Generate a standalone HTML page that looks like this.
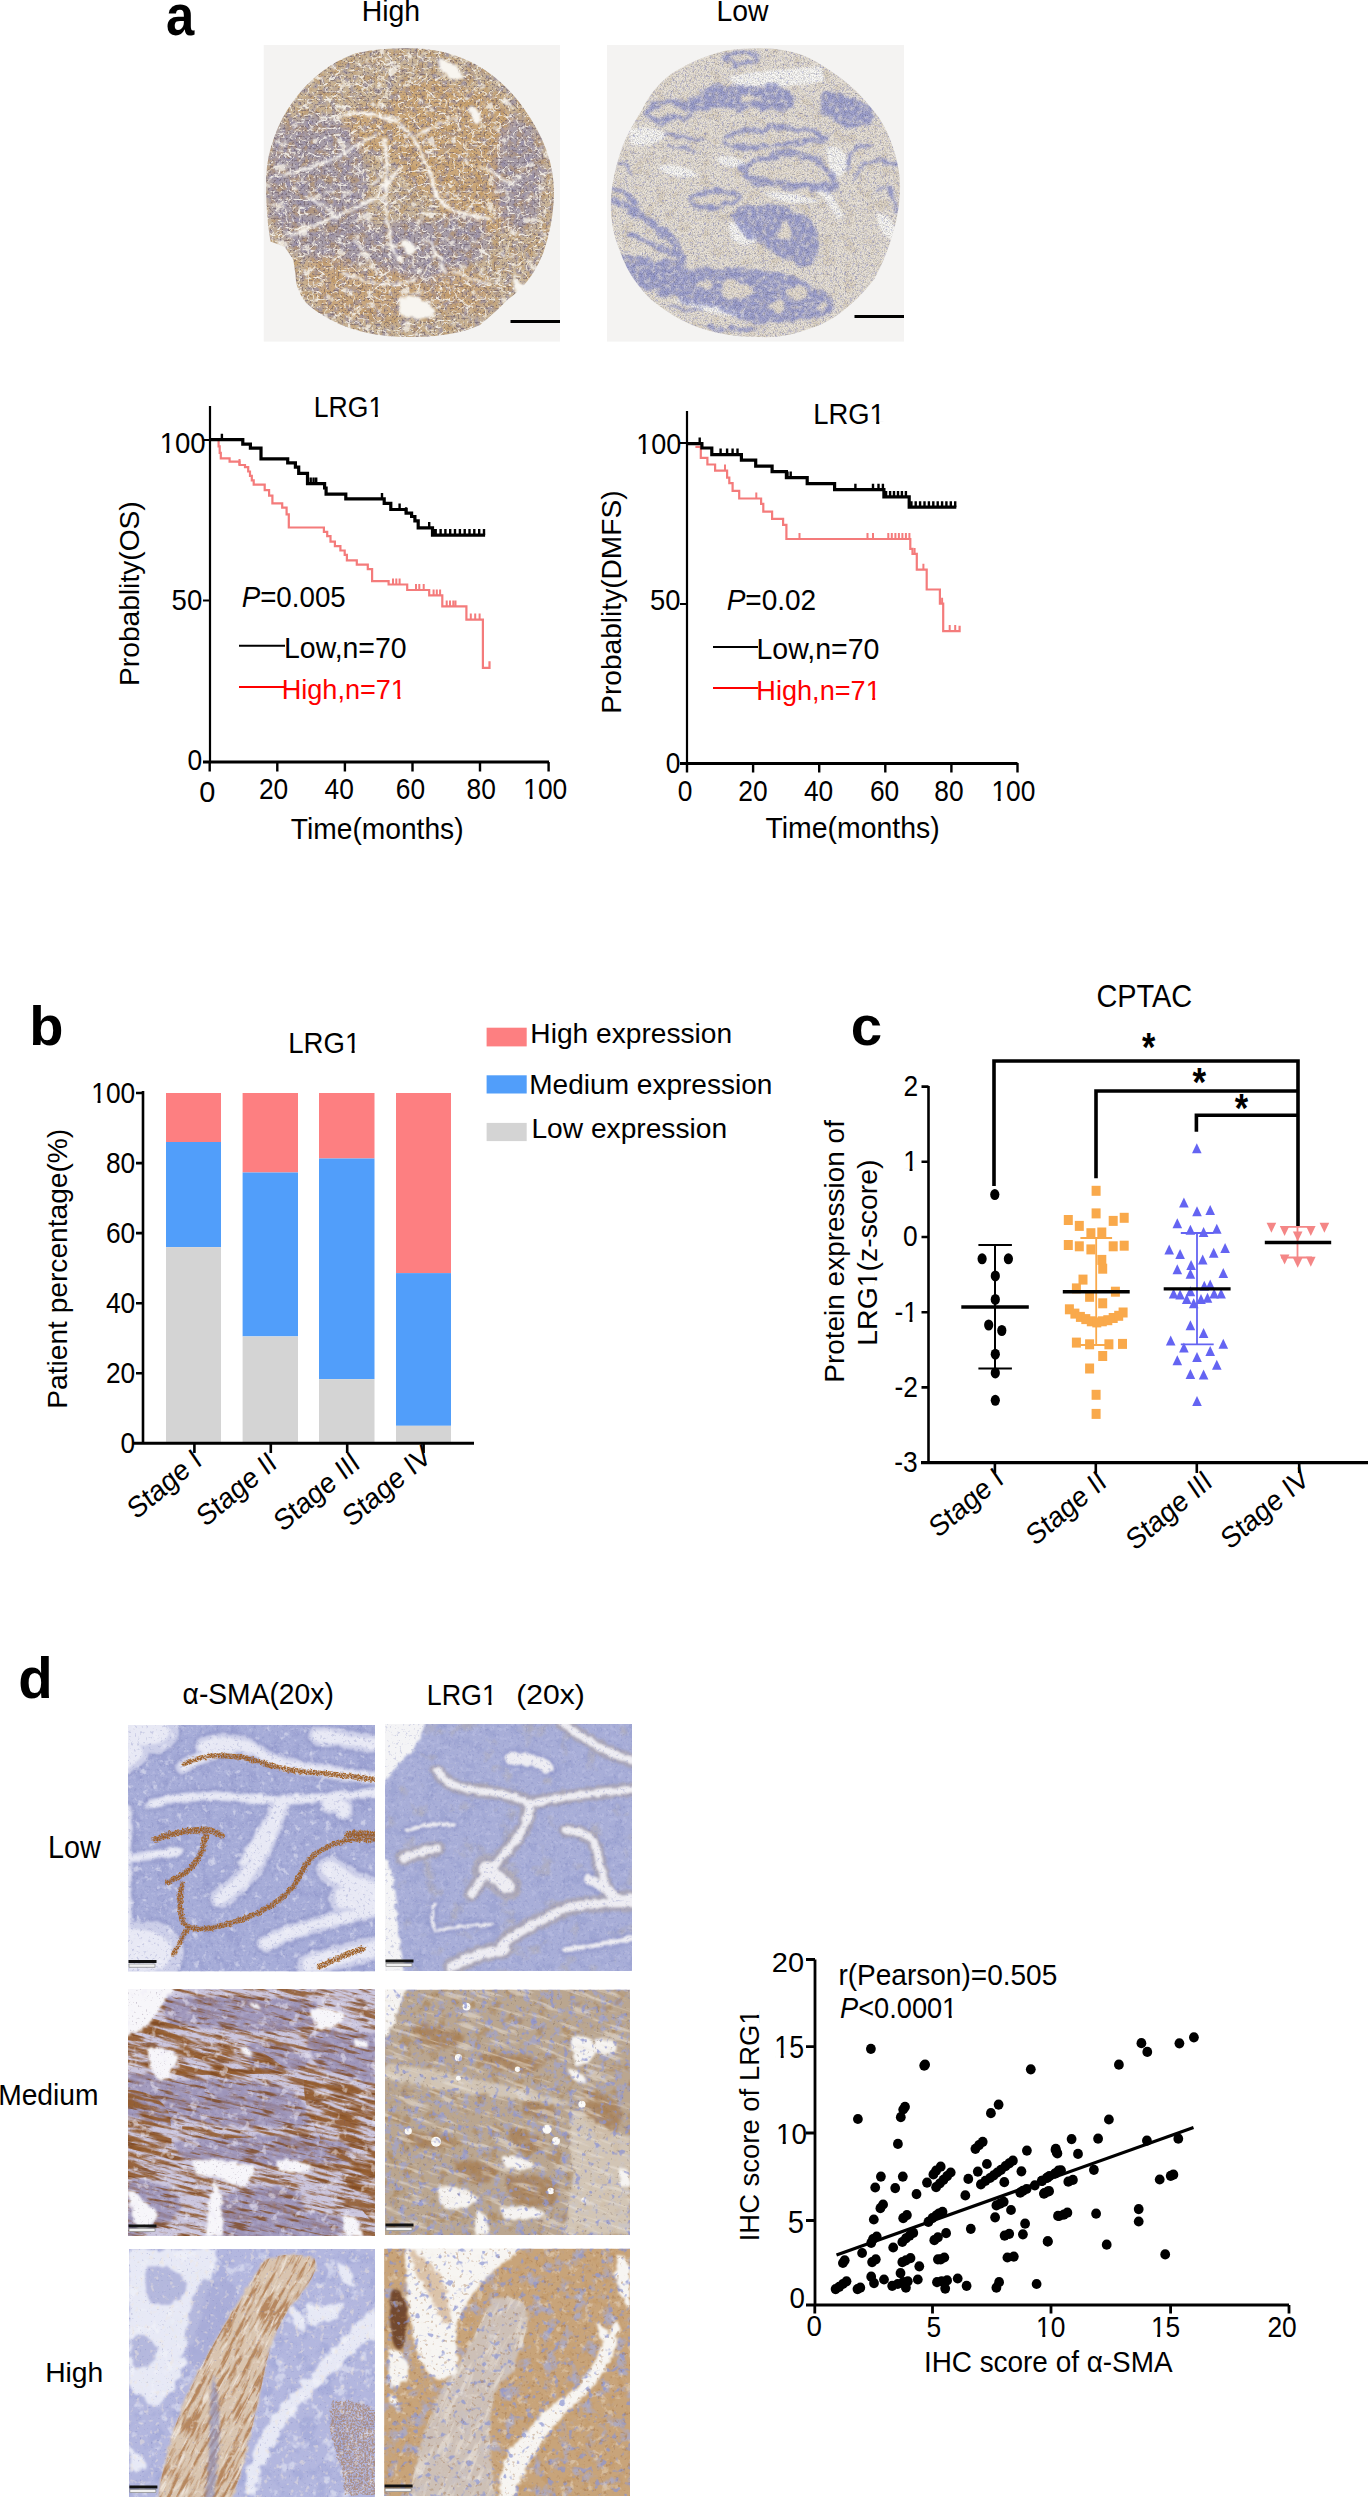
<!DOCTYPE html>
<html><head><meta charset="utf-8"><title>Figure</title>
<style>
html,body{margin:0;padding:0;background:#fff;}
svg{display:block;}
</style></head>
<body>
<svg width="1368" height="2497" viewBox="0 0 1368 2497" font-family="Liberation Sans, sans-serif">
<rect width="1368" height="2497" fill="#fff"/>
<defs><clipPath id="cr5001"><rect x="263.5" y="45" width="296.50" height="296.80"/></clipPath><clipPath id="cp5002"><path d="M680,15 C900,15 1080,120 1200,290 C1300,430 1345,560 1340,700 C1335,820 1310,900 1290,960 C1250,1060 1190,1130 1130,1170 L1080,1220 L1000,1290 C900,1335 780,1348 640,1345 C450,1340 300,1280 200,1190 C170,1150 150,1110 150,1060 L140,990 L100,930 L35,905 C20,820 12,720 15,600 C30,350 200,120 420,40 C500,20 590,15 680,15Z" transform="translate(263,45) scale(0.21711)"/></clipPath><filter id="bf5003" x="-20%" y="-20%" width="140%" height="140%"><feGaussianBlur stdDeviation="16"/></filter><filter id="nl5004" x="0" y="0" width="1" height="1" filterUnits="objectBoundingBox" color-interpolation-filters="sRGB"><feTurbulence type="fractalNoise" baseFrequency="0.16" numOctaves="4" seed="3" result="t"/><feColorMatrix in="t" type="matrix" values="0 0 0 0 0  0 0 0 0 0  0 0 0 0 0  4 0 0 0 -1.9" result="a"/><feFlood flood-color="#8f88aa" flood-opacity="0.6"/><feComposite in2="a" operator="in"/></filter><filter id="nl5005" x="0" y="0" width="1" height="1" filterUnits="objectBoundingBox" color-interpolation-filters="sRGB"><feTurbulence type="fractalNoise" baseFrequency="0.12" numOctaves="4" seed="11" result="t"/><feColorMatrix in="t" type="matrix" values="0 0 0 0 0  0 0 0 0 0  0 0 0 0 0  4 0 0 0 -1.9" result="a"/><feFlood flood-color="#c1955c" flood-opacity="0.5"/><feComposite in2="a" operator="in"/></filter><filter id="nl5006" x="0" y="0" width="1" height="1" filterUnits="objectBoundingBox" color-interpolation-filters="sRGB"><feTurbulence type="fractalNoise" baseFrequency="0.5" numOctaves="2" seed="5" result="t"/><feColorMatrix in="t" type="matrix" values="0 0 0 0 0  0 0 0 0 0  0 0 0 0 0  6 0 0 0 -3.2" result="a"/><feFlood flood-color="#6a5a66" flood-opacity="0.6"/><feComposite in2="a" operator="in"/></filter><filter id="nl5007" x="0" y="0" width="1" height="1" filterUnits="objectBoundingBox" color-interpolation-filters="sRGB"><feTurbulence type="fractalNoise" baseFrequency="0.08" numOctaves="4" seed="21" result="t"/><feColorMatrix in="t" type="matrix" values="0 0 0 0 0  0 0 0 0 0  0 0 0 0 0  7 0 0 0 -4.4" result="a"/><feFlood flood-color="#f7f2ea" flood-opacity="0.8"/><feComposite in2="a" operator="in"/></filter><filter id="nl5008" x="0" y="0" width="1" height="1" filterUnits="objectBoundingBox" color-interpolation-filters="sRGB"><feTurbulence type="turbulence" baseFrequency="0.05 0.07" numOctaves="3" seed="8" result="t"/><feColorMatrix in="t" type="matrix" values="0 0 0 0 0  0 0 0 0 0  0 0 0 0 0  -14 0 0 0 1.75" result="a"/><feFlood flood-color="#fbf8f2" flood-opacity="0.9"/><feComposite in2="a" operator="in"/></filter><filter id="nl5009" x="0" y="0" width="1" height="1" filterUnits="objectBoundingBox" color-interpolation-filters="sRGB"><feTurbulence type="turbulence" baseFrequency="0.11 0.13" numOctaves="2" seed="18" result="t"/><feColorMatrix in="t" type="matrix" values="0 0 0 0 0  0 0 0 0 0  0 0 0 0 0  -12 0 0 0 1.55" result="a"/><feFlood flood-color="#f6f0e6" flood-opacity="0.8"/><feComposite in2="a" operator="in"/></filter><filter id="gr5010" x="0" y="0" width="1" height="1" filterUnits="objectBoundingBox" color-interpolation-filters="sRGB"><feTurbulence type="fractalNoise" baseFrequency="1.0" numOctaves="2" seed="4" result="t"/><feColorMatrix in="t" type="matrix" values="-0.6 0 0 0 1.28  -0.6 0 0 0 1.28  -0.6 0 0 0 1.28  0 0 0 0 1.0"/></filter><filter id="wb5011" x="-10%" y="-10%" width="120%" height="120%"><feTurbulence type="fractalNoise" baseFrequency="0.03" numOctaves="2" seed="9" result="t"/><feDisplacementMap in="SourceGraphic" in2="t" scale="30" xChannelSelector="R" yChannelSelector="G" result="d"/><feGaussianBlur in="d" stdDeviation="6"/></filter><filter id="bf5012" x="-20%" y="-20%" width="140%" height="140%"><feGaussianBlur stdDeviation="0.45"/></filter><clipPath id="cr5013"><rect x="607" y="45" width="297.00" height="296.80"/></clipPath><clipPath id="cp5014"><path d="M700,15 C800,15 900,30 1000,100 C1080,150 1150,200 1250,330 C1310,420 1350,550 1350,650 C1350,800 1300,950 1230,1080 C1150,1180 1050,1270 950,1300 C850,1340 780,1348 700,1345 C600,1345 500,1330 420,1300 C330,1270 250,1210 200,1170 C140,1110 90,1040 60,950 C30,880 15,800 18,720 C20,640 40,560 70,470 C90,420 110,380 160,300 C190,240 230,180 300,130 C380,80 450,50 550,25 C600,18 650,15 700,15Z" transform="translate(607,45) scale(0.21711)"/></clipPath><filter id="nl5015" x="0" y="0" width="1" height="1" filterUnits="objectBoundingBox" color-interpolation-filters="sRGB"><feTurbulence type="fractalNoise" baseFrequency="0.09" numOctaves="3" seed="19" result="t"/><feColorMatrix in="t" type="matrix" values="0 0 0 0 0  0 0 0 0 0  0 0 0 0 0  5 0 0 0 -2.6" result="a"/><feFlood flood-color="#d2c3ad" flood-opacity="0.45"/><feComposite in2="a" operator="in"/></filter><filter id="nl5016" x="0" y="0" width="1" height="1" filterUnits="objectBoundingBox" color-interpolation-filters="sRGB"><feTurbulence type="fractalNoise" baseFrequency="0.4" numOctaves="2" seed="9" result="t"/><feColorMatrix in="t" type="matrix" values="0 0 0 0 0  0 0 0 0 0  0 0 0 0 0  6 0 0 0 -3.5" result="a"/><feFlood flood-color="#a9a7c8" flood-opacity="0.6"/><feComposite in2="a" operator="in"/></filter><filter id="bf5017" x="-20%" y="-20%" width="140%" height="140%"><feGaussianBlur stdDeviation="4"/></filter><filter id="tw5018" x="-10%" y="-10%" width="120%" height="120%" color-interpolation-filters="sRGB"><feTurbulence type="fractalNoise" baseFrequency="0.015" numOctaves="2" seed="5" result="t"/><feDisplacementMap in="SourceGraphic" in2="t" scale="60" xChannelSelector="R" yChannelSelector="G" result="d"/><feTurbulence type="fractalNoise" baseFrequency="0.06" numOctaves="3" seed="105" result="n"/><feColorMatrix in="n" type="matrix" values="0 0 0 0 0  0 0 0 0 0  0 0 0 0 0  3.2 0 0 0 -0.7" result="na"/><feComposite in="d" in2="na" operator="in" result="m"/><feGaussianBlur in="m" stdDeviation="4"/></filter><filter id="nl5019" x="0" y="0" width="1" height="1" filterUnits="objectBoundingBox" color-interpolation-filters="sRGB"><feTurbulence type="fractalNoise" baseFrequency="0.25" numOctaves="3" seed="13" result="t"/><feColorMatrix in="t" type="matrix" values="0 0 0 0 0  0 0 0 0 0  0 0 0 0 0  5 0 0 0 -2.9" result="a"/><feFlood flood-color="#f1ece5" flood-opacity="0.5"/><feComposite in2="a" operator="in"/></filter><filter id="nl5020" x="0" y="0" width="1" height="1" filterUnits="objectBoundingBox" color-interpolation-filters="sRGB"><feTurbulence type="fractalNoise" baseFrequency="0.45" numOctaves="2" seed="7" result="t"/><feColorMatrix in="t" type="matrix" values="0 0 0 0 0  0 0 0 0 0  0 0 0 0 0  6 0 0 0 -3.5" result="a"/><feFlood flood-color="#7c80c0" flood-opacity="0.4"/><feComposite in2="a" operator="in"/></filter><filter id="gr5021" x="0" y="0" width="1" height="1" filterUnits="objectBoundingBox" color-interpolation-filters="sRGB"><feTurbulence type="fractalNoise" baseFrequency="0.9" numOctaves="2" seed="6" result="t"/><feColorMatrix in="t" type="matrix" values="-0.5 0 0 0 1.2  -0.5 0 0 0 1.2  -0.5 0 0 0 1.2  0 0 0 0 1.0"/></filter><filter id="bf5022" x="-20%" y="-20%" width="140%" height="140%"><feGaussianBlur stdDeviation="0.45"/></filter></defs>
<g clip-path="url(#cr5001)"><rect x="263.5" y="45" width="296.50" height="296.80" fill="#f4f3f2"/><g clip-path="url(#cp5002)"><g filter="url(#bf5012)"><rect x="263" y="45" width="297.00" height="297.00" fill="#cdb89a"/><g filter="url(#bf5003)" transform="translate(263,45) scale(0.21711)" opacity="0.7"><ellipse cx="880" cy="450" rx="300" ry="260" fill="#d2a770"/><ellipse cx="760" cy="300" rx="180" ry="140" fill="#d2a770"/><ellipse cx="1000" cy="700" rx="200" ry="180" fill="#d2a770"/><ellipse cx="500" cy="380" rx="130" ry="110" fill="#d2a770"/><ellipse cx="250" cy="650" rx="230" ry="330" fill="#9d96b2"/><ellipse cx="700" cy="950" rx="200" ry="150" fill="#9d96b2"/><ellipse cx="1180" cy="600" rx="110" ry="260" fill="#9d96b2"/><ellipse cx="380" cy="900" rx="170" ry="120" fill="#9d96b2"/><ellipse cx="130" cy="500" rx="100" ry="150" fill="#9d96b2"/><ellipse cx="900" cy="900" rx="140" ry="120" fill="#9d96b2"/><ellipse cx="500" cy="1150" rx="260" ry="120" fill="#cda679"/><ellipse cx="900" cy="1130" rx="150" ry="100" fill="#cda679"/><ellipse cx="300" cy="1050" rx="120" ry="80" fill="#cda679"/></g><rect x="263" y="45" width="297.0" height="297.0" filter="url(#nl5004)"/><rect x="263" y="45" width="297.0" height="297.0" filter="url(#nl5005)"/><rect x="263" y="45" width="297.0" height="297.0" filter="url(#nl5006)"/><rect x="263" y="45" width="297.0" height="297.0" filter="url(#nl5007)"/><rect x="263" y="45" width="297.0" height="297.0" filter="url(#nl5008)"/><rect x="263" y="45" width="297.0" height="297.0" filter="url(#nl5009)"/><rect x="263" y="45" width="297.0" height="297.0" filter="url(#gr5010)" style="mix-blend-mode:multiply"/><g transform="translate(263,45) scale(0.21711)" filter="url(#wb5011)"><path d="M350,330 C450,300 560,320 640,370 C700,420 770,560 800,700 C850,760 900,780 1050,800" fill="none" stroke="#faf7f2" stroke-width="14" stroke-linecap="round"/><path d="M100,600 C250,560 350,520 450,450 C480,430 500,425 520,420" fill="none" stroke="#faf7f2" stroke-width="12" stroke-linecap="round"/><path d="M130,880 C300,800 450,750 520,700 C560,650 600,600 640,560" fill="none" stroke="#faf7f2" stroke-width="12" stroke-linecap="round"/><path d="M560,430 C580,560 560,700 570,800 C580,900 600,950 640,1000" fill="none" stroke="#faf7f2" stroke-width="12" stroke-linecap="round"/><path d="M1000,560 C1080,600 1120,620 1150,640" fill="none" stroke="#faf7f2" stroke-width="10" stroke-linecap="round"/><path d="M360,1050 C500,1100 600,1120 700,1080" fill="none" stroke="#faf7f2" stroke-width="10" stroke-linecap="round"/><path d="M880,1040 C950,1080 1000,1090 1050,1100" fill="none" stroke="#faf7f2" stroke-width="10" stroke-linecap="round"/><path d="M700,420 C760,380 820,360 900,330" fill="none" stroke="#faf7f2" stroke-width="9" stroke-linecap="round"/><path d="M200,700 C260,720 300,760 340,800" fill="none" stroke="#faf7f2" stroke-width="9" stroke-linecap="round"/><path d="M420,900 C470,950 500,1000 520,1050" fill="none" stroke="#faf7f2" stroke-width="9" stroke-linecap="round"/><path d="M760,900 C800,950 820,1000 840,1060" fill="none" stroke="#faf7f2" stroke-width="9" stroke-linecap="round"/><path d="M620,1170 C680,1140 760,1160 790,1230 C760,1270 680,1270 630,1240Z" fill="#f8f5f0"/><path d="M800,70 C860,60 910,100 920,150 C880,170 830,150 800,70Z" fill="#f8f5f0"/><path d="M950,280 C990,280 1010,320 1000,360 C970,360 950,330 950,280Z" fill="#f8f5f0"/><path d="M640,900 C680,890 710,920 700,960 C670,970 645,950 640,900Z" fill="#f8f5f0"/><path d="M1150,1080 C1190,1080 1220,1110 1210,1150 C1180,1160 1150,1130 1150,1080Z" fill="#f8f5f0"/></g></g></g><path d="M510.5,321.4H560" stroke="#000" stroke-width="3"/></g>
<g clip-path="url(#cr5013)"><rect x="607" y="45" width="297.00" height="296.80" fill="#f4f3f2"/><g clip-path="url(#cp5014)"><g filter="url(#bf5022)"><rect x="607" y="45" width="297.00" height="297.00" fill="#e8e1d6"/><rect x="607" y="45" width="297.0" height="297.0" filter="url(#nl5015)"/><rect x="607" y="45" width="297.0" height="297.0" filter="url(#nl5016)"/><g transform="translate(607,45) scale(0.21711)" filter="url(#bf5017)"><path d="M560,150 C650,120 850,105 990,100 L1000,165 C900,195 700,195 600,190Z" fill="#f9f8f5"/><path d="M100,390 C150,370 240,380 270,410 C260,450 180,470 110,460Z" fill="#f9f8f5"/><path d="M1010,470 C1050,460 1100,480 1110,540 C1100,600 1070,620 1040,600 C1020,560 1010,520 1010,470Z" fill="#f9f8f5"/><path d="M980,640 C1020,660 1060,720 1090,790 L1060,800 C1030,740 1000,700 960,670Z" fill="#f9f8f5"/><path d="M560,820 C620,810 680,840 690,900 C660,930 600,930 570,890Z" fill="#f9f8f5"/><path d="M1240,780 C1290,770 1340,820 1330,900 C1290,900 1250,860 1240,780Z" fill="#f9f8f5"/><path d="M500,520 C560,500 640,520 640,560 C580,570 520,560 500,520Z" fill="#f9f8f5"/><path d="M230,560 C300,540 380,560 420,600 C360,620 280,610 230,560Z" fill="#f9f8f5"/><path d="M80,1060 C120,1080 150,1120 150,1160 C110,1150 80,1110 80,1060Z" fill="#f9f8f5"/><path d="M720,680 C800,670 900,690 980,720 C900,740 800,730 720,680Z" fill="#f9f8f5"/><path d="M300,1170 C400,1170 550,1200 650,1250 C550,1260 400,1220 300,1170Z" fill="#f9f8f5"/></g><g transform="translate(607,45) scale(0.21711)" filter="url(#tw5018)" opacity="0.88"><path d="M185,310 C200,255 330,250 380,285 C410,320 300,352 230,342 C200,338 185,325 185,310Z" fill="none" stroke="#8e93cc" stroke-width="25.5" stroke-linejoin="round" stroke-linecap="round"/><path d="M540,60 C600,20 690,30 700,60 C680,100 600,110 540,60Z" fill="none" stroke="#8e93cc" stroke-width="22.1" stroke-linejoin="round" stroke-linecap="round"/><path d="M540,430 C560,395 700,385 860,388 C940,385 1000,400 995,430 C980,455 860,445 700,470 C600,475 545,460 540,430Z" fill="none" stroke="#8e93cc" stroke-width="22.1" stroke-linejoin="round" stroke-linecap="round"/><path d="M630,580 C660,525 800,495 900,505 C980,520 1040,580 1055,650 C980,665 850,655 720,630 C660,620 625,600 630,580Z" fill="none" stroke="#8e93cc" stroke-width="30.6" stroke-linejoin="round" stroke-linecap="round"/><path d="M1095,575 C1110,500 1160,465 1215,462" fill="none" stroke="#8e93cc" stroke-width="20.4" stroke-linejoin="round" stroke-linecap="round"/><path d="M1150,610 C1180,540 1260,515 1330,545" fill="none" stroke="#8e93cc" stroke-width="20.4" stroke-linejoin="round" stroke-linecap="round"/><path d="M1250,660 C1300,620 1345,690 1320,770" fill="none" stroke="#8e93cc" stroke-width="20.4" stroke-linejoin="round" stroke-linecap="round"/><path d="M260,415 L440,440" fill="none" stroke="#8e93cc" stroke-width="15.3" stroke-linejoin="round" stroke-linecap="round"/><path d="M285,470 L410,485" fill="none" stroke="#8e93cc" stroke-width="13.6" stroke-linejoin="round" stroke-linecap="round"/><path d="M390,705 C420,670 560,665 605,690 C600,730 500,750 420,745 C395,740 385,720 390,705Z" fill="none" stroke="#8e93cc" stroke-width="22.1" stroke-linejoin="round" stroke-linecap="round"/><path d="M30,720 C100,740 180,800 260,870 C300,910 330,940 350,980" fill="none" stroke="#8e93cc" stroke-width="37.4" stroke-linejoin="round" stroke-linecap="round"/><path d="M100,870 C170,890 250,930 330,975" fill="none" stroke="#8e93cc" stroke-width="25.5" stroke-linejoin="round" stroke-linecap="round"/><path d="M60,980 C150,1000 250,1000 360,1005" fill="none" stroke="#8e93cc" stroke-width="28.9" stroke-linejoin="round" stroke-linecap="round"/><path d="M290,1215 L430,1225" fill="none" stroke="#8e93cc" stroke-width="18.7" stroke-linejoin="round" stroke-linecap="round"/><path d="M470,1290 C560,1310 640,1310 690,1300" fill="none" stroke="#8e93cc" stroke-width="22.1" stroke-linejoin="round" stroke-linecap="round"/><path d="M20,650 C60,660 120,700 150,760" fill="none" stroke="#8e93cc" stroke-width="25.5" stroke-linejoin="round" stroke-linecap="round"/><path d="M1000,240 C1060,225 1150,250 1230,330" fill="none" stroke="#8e93cc" stroke-width="34.0" stroke-linejoin="round" stroke-linecap="round"/><path d="M1040,340 C1100,360 1160,370 1220,365" fill="none" stroke="#8e93cc" stroke-width="25.5" stroke-linejoin="round" stroke-linecap="round"/><path d="M30,560 C60,540 90,560 110,600" fill="none" stroke="#8e93cc" stroke-width="17.0" stroke-linejoin="round" stroke-linecap="round"/><path d="M430,205 C520,175 700,180 800,195 C860,210 870,260 850,290 C750,300 600,292 480,292 C440,280 420,240 430,205Z" fill="#8e93cc"/><path d="M640,745 C760,715 900,750 960,830 C990,900 975,990 930,1025 C880,1020 830,975 770,955 C700,910 640,860 590,830 C570,800 590,765 640,745Z" fill="#8e93cc"/><path d="M80,1010 C200,995 350,1035 460,1025 C600,1030 750,1040 860,1065 C960,1095 1050,1150 1050,1220 C1000,1265 880,1275 760,1285 C650,1285 580,1240 480,1215 C380,1190 280,1150 190,1130 C120,1110 80,1060 80,1010Z" fill="#8e93cc"/><path d="M380,230 C430,215 470,240 470,300 C440,330 390,320 375,290Z" fill="#8e93cc"/><path d="M980,240 C1060,215 1160,250 1235,335 C1220,385 1120,385 1040,355 C1000,320 975,280 980,240Z" fill="#8e93cc"/><ellipse cx="600" cy="1130" rx="70" ry="45" fill="#e6ddd0"/><ellipse cx="880" cy="1140" rx="45" ry="32" fill="#e6ddd0"/><ellipse cx="450" cy="1105" rx="35" ry="22" fill="#e6ddd0"/><ellipse cx="780" cy="1205" rx="40" ry="25" fill="#e6ddd0"/><ellipse cx="990" cy="1200" rx="30" ry="20" fill="#e6ddd0"/><ellipse cx="270" cy="310" rx="60" ry="18" fill="#e6ddd0"/><ellipse cx="760" cy="430" rx="120" ry="12" fill="#e6ddd0"/><ellipse cx="820" cy="590" rx="110" ry="25" fill="#e6ddd0"/><ellipse cx="500" cy="710" rx="70" ry="14" fill="#e6ddd0"/><ellipse cx="820" cy="860" rx="30" ry="40" fill="#e6ddd0"/><ellipse cx="650" cy="240" rx="50" ry="14" fill="#e6ddd0"/></g><rect x="607" y="45" width="297.0" height="297.0" filter="url(#nl5019)"/><rect x="607" y="45" width="297.0" height="297.0" filter="url(#nl5020)"/><rect x="607" y="45" width="297.0" height="297.0" filter="url(#gr5021)" style="mix-blend-mode:multiply"/></g></g><path d="M854.5,316.5H904" stroke="#000" stroke-width="3"/></g>
<defs><filter id="nl1" x="0" y="0" width="1" height="1" filterUnits="objectBoundingBox" color-interpolation-filters="sRGB"><feTurbulence type="fractalNoise" baseFrequency="0.07" numOctaves="3" seed="31" result="t"/><feColorMatrix in="t" type="matrix" values="0 0 0 0 0  0 0 0 0 0  0 0 0 0 0  5 0 0 0 -2.6" result="a"/><feFlood flood-color="#979dcf" flood-opacity="0.7"/><feComposite in2="a" operator="in"/></filter><filter id="nl2" x="0" y="0" width="1" height="1" filterUnits="objectBoundingBox" color-interpolation-filters="sRGB"><feTurbulence type="fractalNoise" baseFrequency="0.25" numOctaves="2" seed="32" result="t"/><feColorMatrix in="t" type="matrix" values="0 0 0 0 0  0 0 0 0 0  0 0 0 0 0  5 0 0 0 -2.7" result="a"/><feFlood flood-color="#bcc0e4" flood-opacity="0.5"/><feComposite in2="a" operator="in"/></filter><filter id="wb3" x="-10%" y="-10%" width="120%" height="120%"><feTurbulence type="fractalNoise" baseFrequency="0.02" numOctaves="2" seed="3" result="t"/><feDisplacementMap in="SourceGraphic" in2="t" scale="30" xChannelSelector="R" yChannelSelector="G" result="d"/><feGaussianBlur in="d" stdDeviation="10"/></filter><filter id="wb4" x="-10%" y="-10%" width="120%" height="120%"><feTurbulence type="fractalNoise" baseFrequency="0.02" numOctaves="2" seed="3" result="t"/><feDisplacementMap in="SourceGraphic" in2="t" scale="30" xChannelSelector="R" yChannelSelector="G" result="d"/><feGaussianBlur in="d" stdDeviation="6"/></filter><filter id="wb5" x="-10%" y="-10%" width="120%" height="120%"><feTurbulence type="fractalNoise" baseFrequency="0.02" numOctaves="2" seed="3" result="t"/><feDisplacementMap in="SourceGraphic" in2="t" scale="30" xChannelSelector="R" yChannelSelector="G" result="d"/><feGaussianBlur in="d" stdDeviation="6"/></filter><filter id="nl6" x="0" y="0" width="1" height="1" filterUnits="objectBoundingBox" color-interpolation-filters="sRGB"><feTurbulence type="fractalNoise" baseFrequency="0.12" numOctaves="3" seed="35" result="t"/><feColorMatrix in="t" type="matrix" values="0 0 0 0 0  0 0 0 0 0  0 0 0 0 0  6 0 0 0 -3.7" result="a"/><feFlood flood-color="#f2f2fa" flood-opacity="0.45"/><feComposite in2="a" operator="in"/></filter><filter id="tw7" x="-10%" y="-10%" width="120%" height="120%" color-interpolation-filters="sRGB"><feTurbulence type="fractalNoise" baseFrequency="0.05" numOctaves="2" seed="5" result="t"/><feDisplacementMap in="SourceGraphic" in2="t" scale="24" xChannelSelector="R" yChannelSelector="G" result="d"/><feTurbulence type="fractalNoise" baseFrequency="0.12" numOctaves="2" seed="105" result="n"/><feColorMatrix in="n" type="matrix" values="0 0 0 0 0  0 0 0 0 0  0 0 0 0 0  3.2 0 0 0 -0.9" result="na"/><feComposite in="d" in2="na" operator="in" result="m"/><feGaussianBlur in="m" stdDeviation="3"/></filter><filter id="wb8" x="-10%" y="-10%" width="120%" height="120%"><feTurbulence type="fractalNoise" baseFrequency="0.06" numOctaves="2" seed="5" result="t"/><feDisplacementMap in="SourceGraphic" in2="t" scale="18" xChannelSelector="R" yChannelSelector="G" result="d"/><feGaussianBlur in="d" stdDeviation="6"/></filter><filter id="nl9" x="0" y="0" width="1" height="1" filterUnits="objectBoundingBox" color-interpolation-filters="sRGB"><feTurbulence type="fractalNoise" baseFrequency="0.6" numOctaves="1" seed="36" result="t"/><feColorMatrix in="t" type="matrix" values="0 0 0 0 0  0 0 0 0 0  0 0 0 0 0  5 0 0 0 -3.2" result="a"/><feFlood flood-color="#e6e2ee" flood-opacity="0.3"/><feComposite in2="a" operator="in"/></filter><filter id="nl10" x="0" y="0" width="1" height="1" filterUnits="objectBoundingBox" color-interpolation-filters="sRGB"><feTurbulence type="fractalNoise" baseFrequency="0.35" numOctaves="2" seed="37" result="t"/><feColorMatrix in="t" type="matrix" values="0 0 0 0 0  0 0 0 0 0  0 0 0 0 0  6 0 0 0 -3.6" result="a"/><feFlood flood-color="#7d84bd" flood-opacity="0.3"/><feComposite in2="a" operator="in"/></filter><clipPath id="cr11"><rect x="128" y="1725" width="247.00" height="246.50"/></clipPath><filter id="bf12" x="-20%" y="-20%" width="140%" height="140%"><feGaussianBlur stdDeviation="0.35"/></filter><filter id="nl13" x="0" y="0" width="1" height="1" filterUnits="objectBoundingBox" color-interpolation-filters="sRGB"><feTurbulence type="fractalNoise" baseFrequency="0.08" numOctaves="3" seed="41" result="t"/><feColorMatrix in="t" type="matrix" values="0 0 0 0 0  0 0 0 0 0  0 0 0 0 0  5 0 0 0 -2.6" result="a"/><feFlood flood-color="#9aa1d1" flood-opacity="0.7"/><feComposite in2="a" operator="in"/></filter><filter id="nl14" x="0" y="0" width="1" height="1" filterUnits="objectBoundingBox" color-interpolation-filters="sRGB"><feTurbulence type="fractalNoise" baseFrequency="0.05" numOctaves="3" seed="42" result="t"/><feColorMatrix in="t" type="matrix" values="0 0 0 0 0  0 0 0 0 0  0 0 0 0 0  5 0 0 0 -3.0" result="a"/><feFlood flood-color="#b9ae9e" flood-opacity="0.35"/><feComposite in2="a" operator="in"/></filter><filter id="nl15" x="0" y="0" width="1" height="1" filterUnits="objectBoundingBox" color-interpolation-filters="sRGB"><feTurbulence type="fractalNoise" baseFrequency="0.22" numOctaves="2" seed="43" result="t"/><feColorMatrix in="t" type="matrix" values="0 0 0 0 0  0 0 0 0 0  0 0 0 0 0  5 0 0 0 -2.7" result="a"/><feFlood flood-color="#bfc3e6" flood-opacity="0.45"/><feComposite in2="a" operator="in"/></filter><filter id="wb16" x="-10%" y="-10%" width="120%" height="120%"><feTurbulence type="fractalNoise" baseFrequency="0.03" numOctaves="2" seed="7" result="t"/><feDisplacementMap in="SourceGraphic" in2="t" scale="40" xChannelSelector="R" yChannelSelector="G" result="d"/><feGaussianBlur in="d" stdDeviation="6"/></filter><filter id="wb17" x="-10%" y="-10%" width="120%" height="120%"><feTurbulence type="fractalNoise" baseFrequency="0.03" numOctaves="2" seed="8" result="t"/><feDisplacementMap in="SourceGraphic" in2="t" scale="26" xChannelSelector="R" yChannelSelector="G" result="d"/><feGaussianBlur in="d" stdDeviation="6"/></filter><filter id="wb18" x="-10%" y="-10%" width="120%" height="120%"><feTurbulence type="fractalNoise" baseFrequency="0.03" numOctaves="2" seed="8" result="t"/><feDisplacementMap in="SourceGraphic" in2="t" scale="26" xChannelSelector="R" yChannelSelector="G" result="d"/><feGaussianBlur in="d" stdDeviation="10"/></filter><filter id="wb19" x="-10%" y="-10%" width="120%" height="120%"><feTurbulence type="fractalNoise" baseFrequency="0.03" numOctaves="2" seed="8" result="t"/><feDisplacementMap in="SourceGraphic" in2="t" scale="26" xChannelSelector="R" yChannelSelector="G" result="d"/><feGaussianBlur in="d" stdDeviation="6"/></filter><filter id="wb20" x="-10%" y="-10%" width="120%" height="120%"><feTurbulence type="fractalNoise" baseFrequency="0.03" numOctaves="2" seed="8" result="t"/><feDisplacementMap in="SourceGraphic" in2="t" scale="26" xChannelSelector="R" yChannelSelector="G" result="d"/><feGaussianBlur in="d" stdDeviation="6"/></filter><filter id="nl21" x="0" y="0" width="1" height="1" filterUnits="objectBoundingBox" color-interpolation-filters="sRGB"><feTurbulence type="fractalNoise" baseFrequency="0.6" numOctaves="1" seed="46" result="t"/><feColorMatrix in="t" type="matrix" values="0 0 0 0 0  0 0 0 0 0  0 0 0 0 0  5 0 0 0 -3.2" result="a"/><feFlood flood-color="#e2ddd8" flood-opacity="0.25"/><feComposite in2="a" operator="in"/></filter><filter id="nl22" x="0" y="0" width="1" height="1" filterUnits="objectBoundingBox" color-interpolation-filters="sRGB"><feTurbulence type="fractalNoise" baseFrequency="0.35" numOctaves="2" seed="47" result="t"/><feColorMatrix in="t" type="matrix" values="0 0 0 0 0  0 0 0 0 0  0 0 0 0 0  6 0 0 0 -3.6" result="a"/><feFlood flood-color="#7d84bd" flood-opacity="0.3"/><feComposite in2="a" operator="in"/></filter><clipPath id="cr23"><rect x="385" y="1724" width="247.00" height="247.00"/></clipPath><filter id="bf24" x="-20%" y="-20%" width="140%" height="140%"><feGaussianBlur stdDeviation="0.35"/></filter><clipPath id="cr25"><rect x="128" y="1989" width="247.00" height="247.00"/></clipPath><filter id="sl26" x="0" y="0" width="1" height="1" filterUnits="objectBoundingBox" color-interpolation-filters="sRGB"><feTurbulence type="fractalNoise" baseFrequency="0.025 0.22" numOctaves="4" seed="57" result="t"/><feColorMatrix in="t" type="matrix" values="0 0 0 0 0  0 0 0 0 0  0 0 0 0 0  6 0 0 0 -3.0" result="a"/><feFlood flood-color="#8f5628" flood-opacity="0.85"/><feComposite in2="a" operator="in"/></filter><filter id="tw27" x="-10%" y="-10%" width="120%" height="120%" color-interpolation-filters="sRGB"><feTurbulence type="fractalNoise" baseFrequency="0.02" numOctaves="2" seed="11" result="t"/><feDisplacementMap in="SourceGraphic" in2="t" scale="50" xChannelSelector="R" yChannelSelector="G" result="d"/><feTurbulence type="fractalNoise" baseFrequency="0.05" numOctaves="3" seed="111" result="n"/><feColorMatrix in="n" type="matrix" values="0 0 0 0 0  0 0 0 0 0  0 0 0 0 0  3.0 0 0 0 -0.5" result="na"/><feComposite in="d" in2="na" operator="in" result="m"/><feGaussianBlur in="m" stdDeviation="6"/></filter><clipPath id="cp28"><path d="M0,150 C200,150 400,260 700,330 C800,380 850,420 900,470 C700,470 500,470 300,480 C200,470 100,420 0,380Z M0,560 C80,560 200,600 230,700 C250,800 240,900 230,1000 C150,1050 60,1050 0,1040Z M980,470 C1100,500 1250,530 1368,560 L1368,1300 C1300,1250 1250,1150 1200,1050 C1100,1000 1000,1000 950,980 C1000,900 1100,850 1050,800 C1000,700 960,600 980,470Z M300,760 C500,770 700,790 900,800 C700,830 500,830 300,820Z" transform="translate(128,1989) scale(0.18056)"/></clipPath><filter id="sl29" x="0" y="0" width="1" height="1" filterUnits="objectBoundingBox" color-interpolation-filters="sRGB"><feTurbulence type="fractalNoise" baseFrequency="0.025 0.18" numOctaves="4" seed="58" result="t"/><feColorMatrix in="t" type="matrix" values="0 0 0 0 0  0 0 0 0 0  0 0 0 0 0  6 0 0 0 -2.6" result="a"/><feFlood flood-color="#935a2a" flood-opacity="0.9"/><feComposite in2="a" operator="in"/></filter><filter id="sl30" x="0" y="0" width="1" height="1" filterUnits="objectBoundingBox" color-interpolation-filters="sRGB"><feTurbulence type="fractalNoise" baseFrequency="0.04 0.3" numOctaves="3" seed="59" result="t"/><feColorMatrix in="t" type="matrix" values="0 0 0 0 0  0 0 0 0 0  0 0 0 0 0  7 0 0 0 -4.0" result="a"/><feFlood flood-color="#7e4820" flood-opacity="0.8"/><feComposite in2="a" operator="in"/></filter><filter id="wb31" x="-10%" y="-10%" width="120%" height="120%"><feTurbulence type="fractalNoise" baseFrequency="0.03" numOctaves="2" seed="13" result="t"/><feDisplacementMap in="SourceGraphic" in2="t" scale="40" xChannelSelector="R" yChannelSelector="G" result="d"/><feGaussianBlur in="d" stdDeviation="6"/></filter><filter id="nl32" x="0" y="0" width="1" height="1" filterUnits="objectBoundingBox" color-interpolation-filters="sRGB"><feTurbulence type="fractalNoise" baseFrequency="0.1" numOctaves="3" seed="55" result="t"/><feColorMatrix in="t" type="matrix" values="0 0 0 0 0  0 0 0 0 0  0 0 0 0 0  7 0 0 0 -4.3" result="a"/><feFlood flood-color="#efedf7" flood-opacity="0.5"/><feComposite in2="a" operator="in"/></filter><filter id="nl33" x="0" y="0" width="1" height="1" filterUnits="objectBoundingBox" color-interpolation-filters="sRGB"><feTurbulence type="fractalNoise" baseFrequency="0.5" numOctaves="1" seed="56" result="t"/><feColorMatrix in="t" type="matrix" values="0 0 0 0 0  0 0 0 0 0  0 0 0 0 0  6 0 0 0 -3.9" result="a"/><feFlood flood-color="#5e4a68" flood-opacity="0.3"/><feComposite in2="a" operator="in"/></filter><clipPath id="cr34"><rect x="128" y="1989" width="247.00" height="247.00"/></clipPath><filter id="bf35" x="-20%" y="-20%" width="140%" height="140%"><feGaussianBlur stdDeviation="0.35"/></filter><filter id="nl36" x="0" y="0" width="1" height="1" filterUnits="objectBoundingBox" color-interpolation-filters="sRGB"><feTurbulence type="fractalNoise" baseFrequency="0.13" numOctaves="3" seed="61" result="t"/><feColorMatrix in="t" type="matrix" values="0 0 0 0 0  0 0 0 0 0  0 0 0 0 0  5 0 0 0 -2.6" result="a"/><feFlood flood-color="#9ea3d2" flood-opacity="0.7"/><feComposite in2="a" operator="in"/></filter><filter id="nl37" x="0" y="0" width="1" height="1" filterUnits="objectBoundingBox" color-interpolation-filters="sRGB"><feTurbulence type="fractalNoise" baseFrequency="0.08" numOctaves="3" seed="62" result="t"/><feColorMatrix in="t" type="matrix" values="0 0 0 0 0  0 0 0 0 0  0 0 0 0 0  5 0 0 0 -2.8" result="a"/><feFlood flood-color="#a9804f" flood-opacity="0.55"/><feComposite in2="a" operator="in"/></filter><filter id="tw38" x="-10%" y="-10%" width="120%" height="120%" color-interpolation-filters="sRGB"><feTurbulence type="fractalNoise" baseFrequency="0.02" numOctaves="2" seed="14" result="t"/><feDisplacementMap in="SourceGraphic" in2="t" scale="50" xChannelSelector="R" yChannelSelector="G" result="d"/><feTurbulence type="fractalNoise" baseFrequency="0.05" numOctaves="3" seed="114" result="n"/><feColorMatrix in="n" type="matrix" values="0 0 0 0 0  0 0 0 0 0  0 0 0 0 0  3.0 0 0 0 -0.6" result="na"/><feComposite in="d" in2="na" operator="in" result="m"/><feGaussianBlur in="m" stdDeviation="8"/></filter><filter id="wb39" x="-10%" y="-10%" width="120%" height="120%"><feTurbulence type="fractalNoise" baseFrequency="0.03" numOctaves="2" seed="15" result="t"/><feDisplacementMap in="SourceGraphic" in2="t" scale="40" xChannelSelector="R" yChannelSelector="G" result="d"/><feGaussianBlur in="d" stdDeviation="6"/></filter><filter id="wb40" x="-10%" y="-10%" width="120%" height="120%"><feTurbulence type="fractalNoise" baseFrequency="0.03" numOctaves="2" seed="16" result="t"/><feDisplacementMap in="SourceGraphic" in2="t" scale="30" xChannelSelector="R" yChannelSelector="G" result="d"/><feGaussianBlur in="d" stdDeviation="6"/></filter><filter id="bf41" x="-20%" y="-20%" width="140%" height="140%"><feGaussianBlur stdDeviation="3"/></filter><filter id="sl42" x="0" y="0" width="1" height="1" filterUnits="objectBoundingBox" color-interpolation-filters="sRGB"><feTurbulence type="fractalNoise" baseFrequency="0.03 0.2" numOctaves="3" seed="65" result="t"/><feColorMatrix in="t" type="matrix" values="0 0 0 0 0  0 0 0 0 0  0 0 0 0 0  6 0 0 0 -3.4" result="a"/><feFlood flood-color="#ece6de" flood-opacity="0.5"/><feComposite in2="a" operator="in"/></filter><filter id="nl43" x="0" y="0" width="1" height="1" filterUnits="objectBoundingBox" color-interpolation-filters="sRGB"><feTurbulence type="fractalNoise" baseFrequency="0.16" numOctaves="2" seed="66" result="t"/><feColorMatrix in="t" type="matrix" values="0 0 0 0 0  0 0 0 0 0  0 0 0 0 0  7 0 0 0 -4.3" result="a"/><feFlood flood-color="#8d94d2" flood-opacity="0.75"/><feComposite in2="a" operator="in"/></filter><filter id="nl44" x="0" y="0" width="1" height="1" filterUnits="objectBoundingBox" color-interpolation-filters="sRGB"><feTurbulence type="fractalNoise" baseFrequency="0.3" numOctaves="2" seed="67" result="t"/><feColorMatrix in="t" type="matrix" values="0 0 0 0 0  0 0 0 0 0  0 0 0 0 0  7 0 0 0 -4.6" result="a"/><feFlood flood-color="#6f5a4c" flood-opacity="0.3"/><feComposite in2="a" operator="in"/></filter><clipPath id="cr45"><rect x="385" y="1989.6" width="245.00" height="245.40"/></clipPath><filter id="bf46" x="-20%" y="-20%" width="140%" height="140%"><feGaussianBlur stdDeviation="0.35"/></filter><filter id="nl47" x="0" y="0" width="1" height="1" filterUnits="objectBoundingBox" color-interpolation-filters="sRGB"><feTurbulence type="fractalNoise" baseFrequency="0.06" numOctaves="3" seed="71" result="t"/><feColorMatrix in="t" type="matrix" values="0 0 0 0 0  0 0 0 0 0  0 0 0 0 0  5 0 0 0 -2.6" result="a"/><feFlood flood-color="#a2a8d8" flood-opacity="0.7"/><feComposite in2="a" operator="in"/></filter><filter id="wb48" x="-10%" y="-10%" width="120%" height="120%"><feTurbulence type="fractalNoise" baseFrequency="0.02" numOctaves="2" seed="17" result="t"/><feDisplacementMap in="SourceGraphic" in2="t" scale="60" xChannelSelector="R" yChannelSelector="G" result="d"/><feGaussianBlur in="d" stdDeviation="6"/></filter><filter id="nl49" x="0" y="0" width="1" height="1" filterUnits="objectBoundingBox" color-interpolation-filters="sRGB"><feTurbulence type="fractalNoise" baseFrequency="0.08" numOctaves="3" seed="73" result="t"/><feColorMatrix in="t" type="matrix" values="0 0 0 0 0  0 0 0 0 0  0 0 0 0 0  6 0 0 0 -3.5" result="a"/><feFlood flood-color="#f5f6fb" flood-opacity="0.45"/><feComposite in2="a" operator="in"/></filter><filter id="wb50" x="-10%" y="-10%" width="120%" height="120%"><feTurbulence type="fractalNoise" baseFrequency="0.02" numOctaves="2" seed="18" result="t"/><feDisplacementMap in="SourceGraphic" in2="t" scale="40" xChannelSelector="R" yChannelSelector="G" result="d"/><feGaussianBlur in="d" stdDeviation="6"/></filter><filter id="wb51" x="-10%" y="-10%" width="120%" height="120%"><feTurbulence type="fractalNoise" baseFrequency="0.03" numOctaves="2" seed="19" result="t"/><feDisplacementMap in="SourceGraphic" in2="t" scale="30" xChannelSelector="R" yChannelSelector="G" result="d"/><feGaussianBlur in="d" stdDeviation="6"/></filter><clipPath id="cp52"><path d="M760,60 C830,30 930,20 1030,50 C1060,120 1000,200 900,320 C830,420 790,520 760,650 C720,850 680,1000 650,1150 C620,1250 590,1330 570,1400 L160,1400 C180,1250 220,1080 270,950 C310,820 360,720 420,620 C500,480 580,330 680,180 C710,130 730,90 760,60Z" transform="translate(128.9,2249) scale(0.17990)"/></clipPath><filter id="sl53" x="0" y="0" width="1" height="1" filterUnits="objectBoundingBox" color-interpolation-filters="sRGB"><feTurbulence type="fractalNoise" baseFrequency="0.03 0.25" numOctaves="4" seed="77" result="t"/><feColorMatrix in="t" type="matrix" values="0 0 0 0 0  0 0 0 0 0  0 0 0 0 0  6 0 0 0 -2.8" result="a"/><feFlood flood-color="#ae784a" flood-opacity="0.8"/><feComposite in2="a" operator="in"/></filter><filter id="sl54" x="0" y="0" width="1" height="1" filterUnits="objectBoundingBox" color-interpolation-filters="sRGB"><feTurbulence type="fractalNoise" baseFrequency="0.04 0.3" numOctaves="3" seed="78" result="t"/><feColorMatrix in="t" type="matrix" values="0 0 0 0 0  0 0 0 0 0  0 0 0 0 0  7 0 0 0 -4.2" result="a"/><feFlood flood-color="#f4eee8" flood-opacity="0.7"/><feComposite in2="a" operator="in"/></filter><filter id="wb55" x="-10%" y="-10%" width="120%" height="120%"><feTurbulence type="fractalNoise" baseFrequency="0.04" numOctaves="2" seed="20" result="t"/><feDisplacementMap in="SourceGraphic" in2="t" scale="30" xChannelSelector="R" yChannelSelector="G" result="d"/><feGaussianBlur in="d" stdDeviation="6"/></filter><filter id="tw56" x="-10%" y="-10%" width="120%" height="120%" color-interpolation-filters="sRGB"><feTurbulence type="fractalNoise" baseFrequency="0.03" numOctaves="2" seed="21" result="t"/><feDisplacementMap in="SourceGraphic" in2="t" scale="30" xChannelSelector="R" yChannelSelector="G" result="d"/><feTurbulence type="fractalNoise" baseFrequency="0.1" numOctaves="2" seed="121" result="n"/><feColorMatrix in="n" type="matrix" values="0 0 0 0 0  0 0 0 0 0  0 0 0 0 0  3.5 0 0 0 -1.2" result="na"/><feComposite in="d" in2="na" operator="in" result="m"/><feGaussianBlur in="m" stdDeviation="4"/></filter><filter id="nl57" x="0" y="0" width="1" height="1" filterUnits="objectBoundingBox" color-interpolation-filters="sRGB"><feTurbulence type="fractalNoise" baseFrequency="0.2" numOctaves="2" seed="75" result="t"/><feColorMatrix in="t" type="matrix" values="0 0 0 0 0  0 0 0 0 0  0 0 0 0 0  6 0 0 0 -3.6" result="a"/><feFlood flood-color="#f0e6dc" flood-opacity="0.45"/><feComposite in2="a" operator="in"/></filter><filter id="nl58" x="0" y="0" width="1" height="1" filterUnits="objectBoundingBox" color-interpolation-filters="sRGB"><feTurbulence type="fractalNoise" baseFrequency="0.45" numOctaves="1" seed="76" result="t"/><feColorMatrix in="t" type="matrix" values="0 0 0 0 0  0 0 0 0 0  0 0 0 0 0  6 0 0 0 -3.9" result="a"/><feFlood flood-color="#6e74b4" flood-opacity="0.35"/><feComposite in2="a" operator="in"/></filter><clipPath id="cr59"><rect x="128.9" y="2249" width="246.10" height="248.00"/></clipPath><filter id="bf60" x="-20%" y="-20%" width="140%" height="140%"><feGaussianBlur stdDeviation="0.35"/></filter><filter id="nl61" x="0" y="0" width="1" height="1" filterUnits="objectBoundingBox" color-interpolation-filters="sRGB"><feTurbulence type="fractalNoise" baseFrequency="0.07" numOctaves="3" seed="81" result="t"/><feColorMatrix in="t" type="matrix" values="0 0 0 0 0  0 0 0 0 0  0 0 0 0 0  5 0 0 0 -2.7" result="a"/><feFlood flood-color="#a6aad2" flood-opacity="0.75"/><feComposite in2="a" operator="in"/></filter><filter id="nl62" x="0" y="0" width="1" height="1" filterUnits="objectBoundingBox" color-interpolation-filters="sRGB"><feTurbulence type="fractalNoise" baseFrequency="0.12" numOctaves="3" seed="82" result="t"/><feColorMatrix in="t" type="matrix" values="0 0 0 0 0  0 0 0 0 0  0 0 0 0 0  5 0 0 0 -2.8" result="a"/><feFlood flood-color="#c29560" flood-opacity="0.45"/><feComposite in2="a" operator="in"/></filter><filter id="wb63" x="-10%" y="-10%" width="120%" height="120%"><feTurbulence type="fractalNoise" baseFrequency="0.03" numOctaves="2" seed="22" result="t"/><feDisplacementMap in="SourceGraphic" in2="t" scale="40" xChannelSelector="R" yChannelSelector="G" result="d"/><feGaussianBlur in="d" stdDeviation="6"/></filter><clipPath id="cp64"><path d="M600,280 C700,250 820,290 800,400 C780,500 760,600 700,700 C620,760 600,850 590,950 C580,1080 600,1200 620,1400 L140,1400 C160,1250 200,1100 250,950 C300,800 380,680 450,580 C510,480 560,360 600,280Z" transform="translate(384.1,2248.6) scale(0.17975)"/></clipPath><filter id="sl65" x="0" y="0" width="1" height="1" filterUnits="objectBoundingBox" color-interpolation-filters="sRGB"><feTurbulence type="fractalNoise" baseFrequency="0.03 0.2" numOctaves="3" seed="88" result="t"/><feColorMatrix in="t" type="matrix" values="0 0 0 0 0  0 0 0 0 0  0 0 0 0 0  6 0 0 0 -3.2" result="a"/><feFlood flood-color="#e8e0d6" flood-opacity="0.6"/><feComposite in2="a" operator="in"/></filter><filter id="wb66" x="-10%" y="-10%" width="120%" height="120%"><feTurbulence type="fractalNoise" baseFrequency="0.03" numOctaves="2" seed="23" result="t"/><feDisplacementMap in="SourceGraphic" in2="t" scale="40" xChannelSelector="R" yChannelSelector="G" result="d"/><feGaussianBlur in="d" stdDeviation="6"/></filter><filter id="wb67" x="-10%" y="-10%" width="120%" height="120%"><feTurbulence type="fractalNoise" baseFrequency="0.04" numOctaves="2" seed="24" result="t"/><feDisplacementMap in="SourceGraphic" in2="t" scale="20" xChannelSelector="R" yChannelSelector="G" result="d"/><feGaussianBlur in="d" stdDeviation="6"/></filter><filter id="wb68" x="-10%" y="-10%" width="120%" height="120%"><feTurbulence type="fractalNoise" baseFrequency="0.04" numOctaves="2" seed="25" result="t"/><feDisplacementMap in="SourceGraphic" in2="t" scale="60" xChannelSelector="R" yChannelSelector="G" result="d"/><feGaussianBlur in="d" stdDeviation="6"/></filter><filter id="nl69" x="0" y="0" width="1" height="1" filterUnits="objectBoundingBox" color-interpolation-filters="sRGB"><feTurbulence type="fractalNoise" baseFrequency="0.12" numOctaves="3" seed="85" result="t"/><feColorMatrix in="t" type="matrix" values="0 0 0 0 0  0 0 0 0 0  0 0 0 0 0  6 0 0 0 -3.6" result="a"/><feFlood flood-color="#f4efe8" flood-opacity="0.35"/><feComposite in2="a" operator="in"/></filter><filter id="nl70" x="0" y="0" width="1" height="1" filterUnits="objectBoundingBox" color-interpolation-filters="sRGB"><feTurbulence type="fractalNoise" baseFrequency="0.15" numOctaves="2" seed="86" result="t"/><feColorMatrix in="t" type="matrix" values="0 0 0 0 0  0 0 0 0 0  0 0 0 0 0  7 0 0 0 -4.3" result="a"/><feFlood flood-color="#8b94d2" flood-opacity="0.7"/><feComposite in2="a" operator="in"/></filter><filter id="nl71" x="0" y="0" width="1" height="1" filterUnits="objectBoundingBox" color-interpolation-filters="sRGB"><feTurbulence type="fractalNoise" baseFrequency="0.25" numOctaves="2" seed="87" result="t"/><feColorMatrix in="t" type="matrix" values="0 0 0 0 0  0 0 0 0 0  0 0 0 0 0  7 0 0 0 -4.4" result="a"/><feFlood flood-color="#9a6a40" flood-opacity="0.35"/><feComposite in2="a" operator="in"/></filter><clipPath id="cr72"><rect x="384.1" y="2248.6" width="245.90" height="247.40"/></clipPath><filter id="bf73" x="-20%" y="-20%" width="140%" height="140%"><feGaussianBlur stdDeviation="0.35"/></filter></defs>
<g clip-path="url(#cr11)"><g filter="url(#bf12)"><rect x="128" y="1725" width="247.00" height="246.50" fill="#a6acd8"/><rect x="128" y="1725" width="247.0" height="246.5" filter="url(#nl1)"/><rect x="128" y="1725" width="247.0" height="246.5" filter="url(#nl2)"/><g transform="translate(128,1725) scale(0.18056)" filter="url(#wb3)" opacity="0.55"><path d="M-20,40 L150,30" fill="none" stroke="#8d93c6" stroke-width="285.0" stroke-linecap="round" stroke-linejoin="round"/><path d="M-20,200 L40,150" fill="none" stroke="#8d93c6" stroke-width="183.0" stroke-linecap="round" stroke-linejoin="round"/><path d="M300,230 C400,190 520,110 640,120 C720,130 760,190 860,215 C1000,250 1150,265 1400,300" fill="none" stroke="#8d93c6" stroke-width="108.2" stroke-linecap="round" stroke-linejoin="round"/><path d="M420,120 C500,90 600,90 680,130" fill="none" stroke="#8d93c6" stroke-width="132.0" stroke-linecap="round" stroke-linejoin="round"/><path d="M1050,60 C1150,70 1250,90 1400,110" fill="none" stroke="#8d93c6" stroke-width="132.0" stroke-linecap="round" stroke-linejoin="round"/><path d="M120,440 C250,400 420,385 600,400 C760,420 900,420 1050,405 C1200,395 1300,380 1400,370" fill="none" stroke="#8d93c6" stroke-width="87.8" stroke-linecap="round" stroke-linejoin="round"/><path d="M1110,440 C1150,430 1190,450 1200,480" fill="none" stroke="#8d93c6" stroke-width="132.0" stroke-linecap="round" stroke-linejoin="round"/><path d="M840,450 C810,540 780,620 740,700 C700,790 640,870 510,960" fill="none" stroke="#8d93c6" stroke-width="142.2" stroke-linecap="round" stroke-linejoin="round"/><path d="M760,560 C720,640 680,700 640,760" fill="none" stroke="#8d93c6" stroke-width="98.0" stroke-linecap="round" stroke-linejoin="round"/><path d="M-20,740 C60,730 160,715 280,700" fill="none" stroke="#8d93c6" stroke-width="87.8" stroke-linecap="round" stroke-linejoin="round"/><path d="M-10,470 L-10,1110" fill="none" stroke="#8d93c6" stroke-width="98.0" stroke-linecap="round" stroke-linejoin="round"/><path d="M760,1210 C900,1140 1100,1080 1400,1020" fill="none" stroke="#8d93c6" stroke-width="125.2" stroke-linecap="round" stroke-linejoin="round"/><path d="M1120,800 C1200,850 1260,900 1400,930" fill="none" stroke="#8d93c6" stroke-width="183.0" stroke-linecap="round" stroke-linejoin="round"/><path d="M1200,960 L1400,960" fill="none" stroke="#8d93c6" stroke-width="217.0" stroke-linecap="round" stroke-linejoin="round"/><path d="M1000,1330 C1100,1300 1250,1260 1400,1230" fill="none" stroke="#8d93c6" stroke-width="166.0" stroke-linecap="round" stroke-linejoin="round"/><path d="M-20,1140 C40,1140 100,1150 140,1160" fill="none" stroke="#8d93c6" stroke-width="98.0" stroke-linecap="round" stroke-linejoin="round"/><path d="M-20,1260 L140,1260" fill="none" stroke="#8d93c6" stroke-width="370.0" stroke-linecap="round" stroke-linejoin="round"/></g><g transform="translate(128,1725) scale(0.18056)" filter="url(#wb4)" opacity="0.85"><path d="M-20,40 L150,30" fill="none" stroke="#d6d8ee" stroke-width="255.0" stroke-linecap="round" stroke-linejoin="round"/><path d="M-20,200 L40,150" fill="none" stroke="#d6d8ee" stroke-width="153.0" stroke-linecap="round" stroke-linejoin="round"/><path d="M300,230 C400,190 520,110 640,120 C720,130 760,190 860,215 C1000,250 1150,265 1400,300" fill="none" stroke="#d6d8ee" stroke-width="78.2" stroke-linecap="round" stroke-linejoin="round"/><path d="M420,120 C500,90 600,90 680,130" fill="none" stroke="#d6d8ee" stroke-width="102.0" stroke-linecap="round" stroke-linejoin="round"/><path d="M1050,60 C1150,70 1250,90 1400,110" fill="none" stroke="#d6d8ee" stroke-width="102.0" stroke-linecap="round" stroke-linejoin="round"/><path d="M120,440 C250,400 420,385 600,400 C760,420 900,420 1050,405 C1200,395 1300,380 1400,370" fill="none" stroke="#d6d8ee" stroke-width="57.8" stroke-linecap="round" stroke-linejoin="round"/><path d="M1110,440 C1150,430 1190,450 1200,480" fill="none" stroke="#d6d8ee" stroke-width="102.0" stroke-linecap="round" stroke-linejoin="round"/><path d="M840,450 C810,540 780,620 740,700 C700,790 640,870 510,960" fill="none" stroke="#d6d8ee" stroke-width="112.2" stroke-linecap="round" stroke-linejoin="round"/><path d="M760,560 C720,640 680,700 640,760" fill="none" stroke="#d6d8ee" stroke-width="68.0" stroke-linecap="round" stroke-linejoin="round"/><path d="M-20,740 C60,730 160,715 280,700" fill="none" stroke="#d6d8ee" stroke-width="57.8" stroke-linecap="round" stroke-linejoin="round"/><path d="M-10,470 L-10,1110" fill="none" stroke="#d6d8ee" stroke-width="68.0" stroke-linecap="round" stroke-linejoin="round"/><path d="M760,1210 C900,1140 1100,1080 1400,1020" fill="none" stroke="#d6d8ee" stroke-width="95.2" stroke-linecap="round" stroke-linejoin="round"/><path d="M1120,800 C1200,850 1260,900 1400,930" fill="none" stroke="#d6d8ee" stroke-width="153.0" stroke-linecap="round" stroke-linejoin="round"/><path d="M1200,960 L1400,960" fill="none" stroke="#d6d8ee" stroke-width="187.0" stroke-linecap="round" stroke-linejoin="round"/><path d="M1000,1330 C1100,1300 1250,1260 1400,1230" fill="none" stroke="#d6d8ee" stroke-width="136.0" stroke-linecap="round" stroke-linejoin="round"/><path d="M-20,1140 C40,1140 100,1150 140,1160" fill="none" stroke="#d6d8ee" stroke-width="68.0" stroke-linecap="round" stroke-linejoin="round"/><path d="M-20,1260 L140,1260" fill="none" stroke="#d6d8ee" stroke-width="340.0" stroke-linecap="round" stroke-linejoin="round"/></g><g transform="translate(128,1725) scale(0.18056)" filter="url(#wb5)" opacity="1"><path d="M-20,40 L150,30" fill="none" stroke="#e8e9f5" stroke-width="150" stroke-linecap="round" stroke-linejoin="round"/><path d="M-20,200 L40,150" fill="none" stroke="#e8e9f5" stroke-width="90" stroke-linecap="round" stroke-linejoin="round"/><path d="M300,230 C400,190 520,110 640,120 C720,130 760,190 860,215 C1000,250 1150,265 1400,300" fill="none" stroke="#e8e9f5" stroke-width="46" stroke-linecap="round" stroke-linejoin="round"/><path d="M420,120 C500,90 600,90 680,130" fill="none" stroke="#e8e9f5" stroke-width="60" stroke-linecap="round" stroke-linejoin="round"/><path d="M1050,60 C1150,70 1250,90 1400,110" fill="none" stroke="#e8e9f5" stroke-width="60" stroke-linecap="round" stroke-linejoin="round"/><path d="M120,440 C250,400 420,385 600,400 C760,420 900,420 1050,405 C1200,395 1300,380 1400,370" fill="none" stroke="#e8e9f5" stroke-width="34" stroke-linecap="round" stroke-linejoin="round"/><path d="M1110,440 C1150,430 1190,450 1200,480" fill="none" stroke="#e8e9f5" stroke-width="60" stroke-linecap="round" stroke-linejoin="round"/><path d="M840,450 C810,540 780,620 740,700 C700,790 640,870 510,960" fill="none" stroke="#e8e9f5" stroke-width="66" stroke-linecap="round" stroke-linejoin="round"/><path d="M760,560 C720,640 680,700 640,760" fill="none" stroke="#e8e9f5" stroke-width="40" stroke-linecap="round" stroke-linejoin="round"/><path d="M-20,740 C60,730 160,715 280,700" fill="none" stroke="#e8e9f5" stroke-width="34" stroke-linecap="round" stroke-linejoin="round"/><path d="M-10,470 L-10,1110" fill="none" stroke="#e8e9f5" stroke-width="40" stroke-linecap="round" stroke-linejoin="round"/><path d="M760,1210 C900,1140 1100,1080 1400,1020" fill="none" stroke="#e8e9f5" stroke-width="56" stroke-linecap="round" stroke-linejoin="round"/><path d="M1120,800 C1200,850 1260,900 1400,930" fill="none" stroke="#e8e9f5" stroke-width="90" stroke-linecap="round" stroke-linejoin="round"/><path d="M1200,960 L1400,960" fill="none" stroke="#e8e9f5" stroke-width="110" stroke-linecap="round" stroke-linejoin="round"/><path d="M1000,1330 C1100,1300 1250,1260 1400,1230" fill="none" stroke="#e8e9f5" stroke-width="80" stroke-linecap="round" stroke-linejoin="round"/><path d="M-20,1140 C40,1140 100,1150 140,1160" fill="none" stroke="#e8e9f5" stroke-width="40" stroke-linecap="round" stroke-linejoin="round"/><path d="M-20,1260 L140,1260" fill="none" stroke="#e8e9f5" stroke-width="200" stroke-linecap="round" stroke-linejoin="round"/></g><rect x="128" y="1725" width="247.0" height="246.5" filter="url(#nl6)"/><g transform="translate(128,1725) scale(0.18056)" filter="url(#tw7)"><path d="M310,215 C380,190 430,170 470,170 C560,170 640,175 700,195 C760,215 830,240 900,250 C1000,262 1100,268 1200,280 C1280,290 1340,300 1400,305" fill="none" stroke="#a8692c" stroke-width="28.8" stroke-linecap="round"/><path d="M150,635 C220,605 300,585 430,580 C470,585 500,600 515,610" fill="none" stroke="#a8692c" stroke-width="36.0" stroke-linecap="round"/><path d="M430,600 C425,680 400,740 340,800 C300,830 260,860 220,870" fill="none" stroke="#a8692c" stroke-width="32.4" stroke-linecap="round"/><path d="M300,880 C285,940 280,1000 300,1080 C320,1120 350,1135 420,1130 C520,1120 620,1085 720,1040 C800,1000 870,950 910,900 C950,840 980,780 1010,740 C1060,690 1120,660 1200,640 C1260,628 1320,630 1400,640" fill="none" stroke="#a8692c" stroke-width="30.6" stroke-linecap="round"/><path d="M1220,610 C1280,600 1340,610 1400,615" fill="none" stroke="#a8692c" stroke-width="46.800000000000004" stroke-linecap="round"/><path d="M330,1125 C300,1180 280,1220 250,1270" fill="none" stroke="#a8692c" stroke-width="25.2" stroke-linecap="round"/><path d="M1060,1340 C1120,1310 1200,1270 1300,1240" fill="none" stroke="#a8692c" stroke-width="32.4" stroke-linecap="round"/><path d="M980,770 C960,820 950,860 920,880" fill="none" stroke="#a8692c" stroke-width="25.2" stroke-linecap="round"/></g><g transform="translate(128,1725) scale(0.18056)" filter="url(#wb8)" opacity="0.8"><path d="M310,215 C380,190 430,170 470,170 C560,170 640,175 700,195 C760,215 830,240 900,250 C1000,262 1100,268 1200,280 C1280,290 1340,300 1400,305" fill="none" stroke="#8e5222" stroke-width="9.6" stroke-linecap="round" stroke-linejoin="round"/><path d="M150,635 C220,605 300,585 430,580 C470,585 500,600 515,610" fill="none" stroke="#8e5222" stroke-width="12.0" stroke-linecap="round" stroke-linejoin="round"/><path d="M430,600 C425,680 400,740 340,800 C300,830 260,860 220,870" fill="none" stroke="#8e5222" stroke-width="10.799999999999999" stroke-linecap="round" stroke-linejoin="round"/><path d="M300,880 C285,940 280,1000 300,1080 C320,1120 350,1135 420,1130 C520,1120 620,1085 720,1040 C800,1000 870,950 910,900 C950,840 980,780 1010,740 C1060,690 1120,660 1200,640 C1260,628 1320,630 1400,640" fill="none" stroke="#8e5222" stroke-width="10.2" stroke-linecap="round" stroke-linejoin="round"/><path d="M1220,610 C1280,600 1340,610 1400,615" fill="none" stroke="#8e5222" stroke-width="15.6" stroke-linecap="round" stroke-linejoin="round"/><path d="M330,1125 C300,1180 280,1220 250,1270" fill="none" stroke="#8e5222" stroke-width="8.4" stroke-linecap="round" stroke-linejoin="round"/><path d="M1060,1340 C1120,1310 1200,1270 1300,1240" fill="none" stroke="#8e5222" stroke-width="10.799999999999999" stroke-linecap="round" stroke-linejoin="round"/><path d="M980,770 C960,820 950,860 920,880" fill="none" stroke="#8e5222" stroke-width="8.4" stroke-linecap="round" stroke-linejoin="round"/></g><rect x="128" y="1725" width="247.0" height="246.5" filter="url(#nl9)"/><rect x="128" y="1725" width="247.0" height="246.5" filter="url(#nl10)"/></g><rect x="128.5" y="1960.0" width="28" height="3" fill="#111"/><rect x="129" y="1964.0" width="26" height="3.2" fill="#f0f0f0" stroke="#777" stroke-width="0.6"/></g>
<g clip-path="url(#cr23)"><g filter="url(#bf24)"><rect x="385" y="1724" width="247.00" height="247.00" fill="#a8aed8"/><rect x="385" y="1724" width="247.0" height="247.0" filter="url(#nl13)"/><rect x="385" y="1724" width="247.0" height="247.0" filter="url(#nl14)"/><rect x="385" y="1724" width="247.0" height="247.0" filter="url(#nl15)"/><g transform="translate(385,1724) scale(0.18056)" filter="url(#wb16)" opacity="1"><path d="M-20,-20 L230,-20 C210,40 190,90 150,150 C100,200 60,240 20,300 L-20,340Z" fill="#f4f4f6"/><path d="M-20,740 C20,760 40,800 50,900 C60,1000 70,1100 90,1250 L110,1400 L-20,1400Z" fill="#f4f4f6"/></g><g transform="translate(385,1724) scale(0.18056)" filter="url(#wb17)" opacity="1"><path d="M290,260 C330,330 400,360 600,380 C700,395 760,420 800,440 C900,420 1100,380 1400,360" fill="none" stroke="#ecebf2" stroke-width="39.0" stroke-linecap="round" stroke-linejoin="round"/><path d="M800,440 C800,520 760,600 720,650 C660,720 600,790 520,880 L480,940" fill="none" stroke="#ecebf2" stroke-width="44.2" stroke-linecap="round" stroke-linejoin="round"/><path d="M560,800 C600,830 650,880 680,900" fill="none" stroke="#ecebf2" stroke-width="78.0" stroke-linecap="round" stroke-linejoin="round"/><path d="M100,745 C160,720 220,700 290,690" fill="none" stroke="#ecebf2" stroke-width="44.2" stroke-linecap="round" stroke-linejoin="round"/><path d="M1000,590 C1080,595 1140,610 1170,680 C1190,780 1200,860 1250,950 C1290,970 1330,965 1400,960" fill="none" stroke="#ecebf2" stroke-width="39.0" stroke-linecap="round" stroke-linejoin="round"/><path d="M650,1220 C720,1160 800,1120 1000,1020 C1100,995 1200,990 1400,990" fill="none" stroke="#ecebf2" stroke-width="46.800000000000004" stroke-linecap="round" stroke-linejoin="round"/><path d="M370,1345 C450,1300 550,1260 660,1250" fill="none" stroke="#ecebf2" stroke-width="52.0" stroke-linecap="round" stroke-linejoin="round"/><path d="M980,-10 C1050,50 1150,110 1250,160 C1300,180 1350,200 1400,210" fill="none" stroke="#ecebf2" stroke-width="39.0" stroke-linecap="round" stroke-linejoin="round"/><path d="M700,190 C780,190 850,200 900,240" fill="none" stroke="#ecebf2" stroke-width="65.0" stroke-linecap="round" stroke-linejoin="round"/><path d="M1000,1250 C1100,1235 1250,1215 1400,1180" fill="none" stroke="#ecebf2" stroke-width="26.0" stroke-linecap="round" stroke-linejoin="round"/><path d="M270,1000 C260,1060 255,1100 280,1140" fill="none" stroke="#ecebf2" stroke-width="18.2" stroke-linecap="round" stroke-linejoin="round"/><path d="M300,1140 C400,1120 500,1115 600,1110" fill="none" stroke="#ecebf2" stroke-width="15.600000000000001" stroke-linecap="round" stroke-linejoin="round"/><path d="M120,590 C200,560 300,550 380,560" fill="none" stroke="#ecebf2" stroke-width="18.2" stroke-linecap="round" stroke-linejoin="round"/><path d="M1130,860 C1180,880 1230,920 1260,940" fill="none" stroke="#ecebf2" stroke-width="52.0" stroke-linecap="round" stroke-linejoin="round"/></g><g transform="translate(385,1724) scale(0.18056)" filter="url(#wb18)" opacity="0.5"><path d="M290,260 C330,330 400,360 600,380 C700,395 760,420 800,440 C900,420 1100,380 1400,360" fill="none" stroke="#8c92c6" stroke-width="79.0" stroke-linecap="round" stroke-linejoin="round"/><path d="M800,440 C800,520 760,600 720,650 C660,720 600,790 520,880 L480,940" fill="none" stroke="#8c92c6" stroke-width="84.2" stroke-linecap="round" stroke-linejoin="round"/><path d="M560,800 C600,830 650,880 680,900" fill="none" stroke="#8c92c6" stroke-width="118.0" stroke-linecap="round" stroke-linejoin="round"/><path d="M100,745 C160,720 220,700 290,690" fill="none" stroke="#8c92c6" stroke-width="84.2" stroke-linecap="round" stroke-linejoin="round"/><path d="M1000,590 C1080,595 1140,610 1170,680 C1190,780 1200,860 1250,950 C1290,970 1330,965 1400,960" fill="none" stroke="#8c92c6" stroke-width="79.0" stroke-linecap="round" stroke-linejoin="round"/><path d="M650,1220 C720,1160 800,1120 1000,1020 C1100,995 1200,990 1400,990" fill="none" stroke="#8c92c6" stroke-width="86.80000000000001" stroke-linecap="round" stroke-linejoin="round"/><path d="M370,1345 C450,1300 550,1260 660,1250" fill="none" stroke="#8c92c6" stroke-width="92.0" stroke-linecap="round" stroke-linejoin="round"/><path d="M980,-10 C1050,50 1150,110 1250,160 C1300,180 1350,200 1400,210" fill="none" stroke="#8c92c6" stroke-width="79.0" stroke-linecap="round" stroke-linejoin="round"/><path d="M700,190 C780,190 850,200 900,240" fill="none" stroke="#8c92c6" stroke-width="105.0" stroke-linecap="round" stroke-linejoin="round"/><path d="M1000,1250 C1100,1235 1250,1215 1400,1180" fill="none" stroke="#8c92c6" stroke-width="66.0" stroke-linecap="round" stroke-linejoin="round"/><path d="M270,1000 C260,1060 255,1100 280,1140" fill="none" stroke="#8c92c6" stroke-width="58.2" stroke-linecap="round" stroke-linejoin="round"/><path d="M300,1140 C400,1120 500,1115 600,1110" fill="none" stroke="#8c92c6" stroke-width="55.6" stroke-linecap="round" stroke-linejoin="round"/><path d="M120,590 C200,560 300,550 380,560" fill="none" stroke="#8c92c6" stroke-width="58.2" stroke-linecap="round" stroke-linejoin="round"/><path d="M1130,860 C1180,880 1230,920 1260,940" fill="none" stroke="#8c92c6" stroke-width="92.0" stroke-linecap="round" stroke-linejoin="round"/></g><g transform="translate(385,1724) scale(0.18056)" filter="url(#wb19)" opacity="0.45"><path d="M290,260 C330,330 400,360 600,380 C700,395 760,420 800,440 C900,420 1100,380 1400,360" fill="none" stroke="#b9ab9c" stroke-width="78.0" stroke-linecap="round" stroke-linejoin="round"/><path d="M800,440 C800,520 760,600 720,650 C660,720 600,790 520,880 L480,940" fill="none" stroke="#b9ab9c" stroke-width="88.4" stroke-linecap="round" stroke-linejoin="round"/><path d="M560,800 C600,830 650,880 680,900" fill="none" stroke="#b9ab9c" stroke-width="156.0" stroke-linecap="round" stroke-linejoin="round"/><path d="M100,745 C160,720 220,700 290,690" fill="none" stroke="#b9ab9c" stroke-width="88.4" stroke-linecap="round" stroke-linejoin="round"/><path d="M1000,590 C1080,595 1140,610 1170,680 C1190,780 1200,860 1250,950 C1290,970 1330,965 1400,960" fill="none" stroke="#b9ab9c" stroke-width="78.0" stroke-linecap="round" stroke-linejoin="round"/><path d="M650,1220 C720,1160 800,1120 1000,1020 C1100,995 1200,990 1400,990" fill="none" stroke="#b9ab9c" stroke-width="93.60000000000001" stroke-linecap="round" stroke-linejoin="round"/><path d="M370,1345 C450,1300 550,1260 660,1250" fill="none" stroke="#b9ab9c" stroke-width="104.0" stroke-linecap="round" stroke-linejoin="round"/><path d="M980,-10 C1050,50 1150,110 1250,160 C1300,180 1350,200 1400,210" fill="none" stroke="#b9ab9c" stroke-width="78.0" stroke-linecap="round" stroke-linejoin="round"/></g><g transform="translate(385,1724) scale(0.18056)" filter="url(#wb20)" opacity="1"><path d="M290,260 C330,330 400,360 600,380 C700,395 760,420 800,440 C900,420 1100,380 1400,360" fill="none" stroke="#eeedf3" stroke-width="39.0" stroke-linecap="round" stroke-linejoin="round"/><path d="M800,440 C800,520 760,600 720,650 C660,720 600,790 520,880 L480,940" fill="none" stroke="#eeedf3" stroke-width="44.2" stroke-linecap="round" stroke-linejoin="round"/><path d="M560,800 C600,830 650,880 680,900" fill="none" stroke="#eeedf3" stroke-width="78.0" stroke-linecap="round" stroke-linejoin="round"/><path d="M100,745 C160,720 220,700 290,690" fill="none" stroke="#eeedf3" stroke-width="44.2" stroke-linecap="round" stroke-linejoin="round"/><path d="M1000,590 C1080,595 1140,610 1170,680 C1190,780 1200,860 1250,950 C1290,970 1330,965 1400,960" fill="none" stroke="#eeedf3" stroke-width="39.0" stroke-linecap="round" stroke-linejoin="round"/><path d="M650,1220 C720,1160 800,1120 1000,1020 C1100,995 1200,990 1400,990" fill="none" stroke="#eeedf3" stroke-width="46.800000000000004" stroke-linecap="round" stroke-linejoin="round"/><path d="M370,1345 C450,1300 550,1260 660,1250" fill="none" stroke="#eeedf3" stroke-width="52.0" stroke-linecap="round" stroke-linejoin="round"/><path d="M980,-10 C1050,50 1150,110 1250,160 C1300,180 1350,200 1400,210" fill="none" stroke="#eeedf3" stroke-width="39.0" stroke-linecap="round" stroke-linejoin="round"/><path d="M700,190 C780,190 850,200 900,240" fill="none" stroke="#eeedf3" stroke-width="65.0" stroke-linecap="round" stroke-linejoin="round"/><path d="M1000,1250 C1100,1235 1250,1215 1400,1180" fill="none" stroke="#eeedf3" stroke-width="26.0" stroke-linecap="round" stroke-linejoin="round"/><path d="M270,1000 C260,1060 255,1100 280,1140" fill="none" stroke="#eeedf3" stroke-width="18.2" stroke-linecap="round" stroke-linejoin="round"/><path d="M300,1140 C400,1120 500,1115 600,1110" fill="none" stroke="#eeedf3" stroke-width="15.600000000000001" stroke-linecap="round" stroke-linejoin="round"/><path d="M120,590 C200,560 300,550 380,560" fill="none" stroke="#eeedf3" stroke-width="18.2" stroke-linecap="round" stroke-linejoin="round"/><path d="M1130,860 C1180,880 1230,920 1260,940" fill="none" stroke="#eeedf3" stroke-width="52.0" stroke-linecap="round" stroke-linejoin="round"/></g><rect x="385" y="1724" width="247.0" height="247.0" filter="url(#nl21)"/><rect x="385" y="1724" width="247.0" height="247.0" filter="url(#nl22)"/></g><rect x="385.5" y="1959.5" width="28" height="3" fill="#111"/><rect x="386" y="1963.5" width="26" height="3.2" fill="#f0f0f0" stroke="#777" stroke-width="0.6"/></g>
<g clip-path="url(#cr34)"><g filter="url(#bf35)"><rect x="128" y="1989" width="247.00" height="247.00" fill="#cbc6de"/><g><rect x="66.2" y="1927.2" width="370.5" height="370.5" filter="url(#sl26)" transform="rotate(14 251.5 2112.5)"/></g><g transform="translate(128,1989) scale(0.18056)" filter="url(#tw27)" opacity="0.85"><path d="M200,60 C400,30 700,40 1050,70 C1080,150 1050,220 900,230 C700,230 450,220 230,200 C200,150 190,100 200,60Z" fill="#948bb2"/><path d="M1000,240 C1150,230 1300,230 1368,250 L1368,520 C1250,500 1150,470 1050,430 C1000,360 990,300 1000,240Z" fill="#948bb2"/><path d="M230,520 C400,490 600,500 800,530 C950,560 1000,650 1000,760 C850,780 600,760 400,740 C300,720 230,650 230,520Z" fill="#948bb2"/><path d="M250,840 C500,810 800,800 1050,820 C1200,830 1260,880 1240,950 C1000,980 700,970 450,960 C320,950 250,910 250,840Z" fill="#948bb2"/><path d="M0,470 C100,460 200,480 300,520 C320,600 300,700 250,750 C150,740 60,720 0,700Z" fill="#948bb2"/><path d="M500,1150 C600,1100 750,1080 900,1100 C1000,1150 1000,1300 950,1400 L450,1400 C430,1300 450,1200 500,1150Z" fill="#948bb2"/><path d="M30,1050 C150,1060 260,1100 300,1200 C250,1300 150,1350 50,1368 L0,1368 L0,1080Z" fill="#948bb2"/><path d="M850,1240 C950,1230 1100,1230 1200,1280 C1200,1340 1150,1368 1100,1380 L850,1380Z" fill="#948bb2"/><path d="M660,300 C800,290 950,320 1000,400 C950,460 800,470 700,440 C650,400 640,340 660,300Z" fill="#948bb2"/></g><g clip-path="url(#cp28)"><rect x="66.2" y="1927.2" width="370.5" height="370.5" filter="url(#sl29)" transform="rotate(14 251.5 2112.5)"/></g><g><rect x="66.2" y="1927.2" width="370.5" height="370.5" filter="url(#sl30)" transform="rotate(12 251.5 2112.5)"/></g><g transform="translate(128,1989) scale(0.18056)" filter="url(#wb31)" opacity="1"><path d="M-20,-20 L260,-20 C200,80 150,160 80,230 L-20,260Z" fill="#f7f6fa"/><path d="M110,330 C180,320 250,340 280,380 C260,440 220,500 180,510 C140,480 110,420 110,330Z" fill="#f7f6fa"/><path d="M360,950 C450,940 560,950 700,980 C690,1060 650,1100 600,1090 C550,1060 480,1040 400,1030 C360,1000 350,970 360,950Z" fill="#f7f6fa"/><path d="M1010,110 C1080,100 1150,110 1200,140 C1180,200 1120,230 1050,220 C1020,180 1000,140 1010,110Z" fill="#f7f6fa"/><path d="M820,950 C900,940 980,950 1040,990 C980,1020 900,1020 830,1000Z" fill="#f7f6fa"/><path d="M1190,1250 C1240,1250 1290,1280 1300,1368 L1200,1368Z" fill="#f7f6fa"/><path d="M0,1100 C60,1150 120,1200 160,1250 C140,1300 100,1330 60,1340 C30,1300 10,1200 0,1100Z" fill="#f7f6fa"/><path d="M480,1060 C520,1100 530,1200 520,1368 L430,1368 C440,1250 450,1150 480,1060Z" fill="#f7f6fa"/><path d="M620,320 C660,320 700,340 700,370 C660,380 630,360 620,320Z" fill="#f7f6fa"/><path d="M680,80 C720,80 740,100 730,120 C700,120 680,100 680,80Z" fill="#f7f6fa"/><path d="M1250,280 C1300,270 1330,290 1330,320 C1300,330 1260,320 1250,280Z" fill="#f7f6fa"/></g><rect x="128" y="1989" width="247.0" height="247.0" filter="url(#nl32)"/><rect x="128" y="1989" width="247.0" height="247.0" filter="url(#nl33)"/></g><rect x="128.5" y="2224.5" width="28" height="3" fill="#111"/><rect x="129" y="2228.5" width="26" height="3.2" fill="#f0f0f0" stroke="#777" stroke-width="0.6"/></g>
<g clip-path="url(#cr45)"><g filter="url(#bf46)"><rect x="385" y="1989.6" width="245.00" height="245.40" fill="#baa690"/><rect x="385" y="1989.6" width="245.0" height="245.4" filter="url(#nl36)"/><rect x="385" y="1989.6" width="245.0" height="245.4" filter="url(#nl37)"/><g transform="translate(385,1989.6) scale(0.17909)" filter="url(#tw38)" opacity="0.8"><path d="M680,1040 C780,1020 900,1030 960,1080 C980,1150 960,1200 900,1220 C800,1230 720,1200 690,1150 C670,1100 670,1060 680,1040Z" fill="#a57a4e"/><path d="M380,960 C460,950 560,960 640,980 C640,1040 600,1080 520,1080 C440,1070 390,1030 380,960Z" fill="#a57a4e"/><path d="M150,200 C250,190 350,210 450,250 C450,300 400,330 300,330 C200,320 150,280 150,200Z" fill="#a57a4e"/><path d="M540,360 C650,350 800,360 900,400 C880,450 800,470 700,460 C600,450 550,420 540,360Z" fill="#a57a4e"/><path d="M770,620 C850,610 930,640 960,700 C920,730 850,730 800,710 C770,680 760,650 770,620Z" fill="#a57a4e"/><path d="M120,800 C200,790 300,800 380,830 C360,880 300,900 200,890 C140,870 110,840 120,800Z" fill="#a57a4e"/><path d="M1100,560 C1200,560 1300,600 1330,700 C1300,800 1250,850 1200,840 C1130,780 1100,680 1100,560Z" fill="#a57a4e"/><path d="M700,780 C800,790 880,830 900,880 C850,920 780,920 720,880 C690,840 690,810 700,780Z" fill="#a57a4e"/></g><g transform="translate(385,1989.6) scale(0.17909)" filter="url(#wb39)" opacity="0.7"><path d="M1050,680 C1150,700 1250,800 1368,820 L1368,1368 L1000,1368 C1000,1250 1050,1100 1050,1000 C1030,900 1020,800 1050,680Z" fill="#ddd3c5"/><path d="M0,420 C200,430 400,480 600,520 C800,560 950,600 1050,650 C900,640 700,600 500,580 C300,560 150,520 0,500Z" fill="#ddd3c5"/></g><g transform="translate(385,1989.6) scale(0.17909)" filter="url(#wb40)" opacity="1"><path d="M-20,-20 L120,-20 C90,80 60,160 20,250 L-20,260Z" fill="#f6f4f2"/><path d="M1050,260 C1100,250 1150,260 1180,330 C1170,400 1120,430 1060,420 C1040,360 1040,300 1050,260Z" fill="#f6f4f2"/><path d="M1170,280 C1220,270 1280,280 1300,320 C1280,360 1220,370 1180,350Z" fill="#f6f4f2"/><path d="M650,930 C720,920 800,940 830,990 C780,1010 700,1010 660,980Z" fill="#f6f4f2"/><path d="M640,1220 C720,1200 830,1210 900,1250 C850,1290 740,1295 660,1270Z" fill="#f6f4f2"/><path d="M300,1100 C380,1090 460,1110 520,1160 C480,1220 400,1240 330,1220 C300,1180 290,1140 300,1100Z" fill="#f6f4f2"/><path d="M1020,440 C1070,440 1110,470 1120,520 C1080,530 1040,510 1020,440Z" fill="#f6f4f2"/><path d="M520,1240 C560,1240 590,1280 580,1368 L500,1368 C500,1300 505,1260 520,1240Z" fill="#f6f4f2"/><path d="M1300,1000 C1340,990 1368,1000 1368,1100 L1320,1100Z" fill="#f6f4f2"/></g><g transform="translate(385,1989.6) scale(0.17909)" filter="url(#bf41)"><circle cx="455" cy="95" r="22" fill="#fbfaf8"/><circle cx="285" cy="850" r="28" fill="#fbfaf8"/><circle cx="905" cy="780" r="25" fill="#fbfaf8"/><circle cx="955" cy="845" r="22" fill="#fbfaf8"/><circle cx="925" cy="1125" r="18" fill="#fbfaf8"/><circle cx="740" cy="445" r="15" fill="#fbfaf8"/><circle cx="1100" cy="640" r="20" fill="#fbfaf8"/><circle cx="410" cy="380" r="20" fill="#fbfaf8"/><circle cx="410" cy="495" r="14" fill="#fbfaf8"/><circle cx="130" cy="790" r="20" fill="#fbfaf8"/><circle cx="1110" cy="1175" r="14" fill="#fbfaf8"/></g><g><rect x="323.8" y="1928.2" width="367.5" height="368.1" filter="url(#sl42)" transform="rotate(18 507.5 2112.3)"/></g><rect x="385" y="1989.6" width="245.0" height="245.4" filter="url(#nl43)"/><rect x="385" y="1989.6" width="245.0" height="245.4" filter="url(#nl44)"/></g><rect x="385.5" y="2223.5" width="28" height="3" fill="#111"/><rect x="386" y="2227.5" width="26" height="3.2" fill="#f0f0f0" stroke="#777" stroke-width="0.6"/></g>
<g clip-path="url(#cr59)"><g filter="url(#bf60)"><rect x="128.9" y="2249" width="246.10" height="248.00" fill="#b3b7df"/><rect x="128.9" y="2249" width="246.1" height="248.0" filter="url(#nl47)"/><g transform="translate(128.9,2249) scale(0.17990)" filter="url(#wb48)" opacity="0.92"><path d="M0,0 L500,0 C480,150 420,300 380,450 C330,560 260,620 200,640 C120,660 60,640 0,640Z" fill="#eceef8"/><path d="M700,1368 C720,1250 780,1120 880,960 C960,850 1060,760 1180,640 C1250,570 1320,520 1368,500 L1368,330 C1300,380 1220,450 1130,560 C1020,690 900,800 820,900 C740,1000 660,1150 640,1368Z" fill="#eceef8"/><path d="M0,640 C100,620 200,610 320,600 C300,700 250,800 150,880 C80,850 30,800 0,760Z" fill="#eceef8"/><path d="M1150,60 C1200,80 1250,140 1260,200 C1220,220 1170,190 1150,60Z" fill="#eceef8"/><path d="M880,300 C940,330 990,400 1000,460 C950,470 900,420 880,300Z" fill="#eceef8"/><path d="M0,1100 C40,1120 80,1150 100,1200 C70,1240 30,1240 0,1230Z" fill="#eceef8"/><path d="M980,300 C1050,320 1120,330 1200,300 C1180,380 1100,420 1000,420Z" fill="#eceef8"/></g><rect x="128.9" y="2249" width="246.1" height="248.0" filter="url(#nl49)"/><g transform="translate(128.9,2249) scale(0.17990)" filter="url(#wb50)" opacity="0.8"><path d="M380,200 C450,150 550,160 600,220 C560,400 500,550 450,680 C400,700 330,650 320,560 C320,420 340,300 380,200Z" fill="#a8acd8"/><path d="M40,480 C100,470 150,500 160,560 C140,640 80,680 30,660 C10,600 10,520 40,480Z" fill="#a8acd8"/><path d="M100,100 C200,80 300,120 330,200 C300,300 200,330 120,300 C80,230 80,160 100,100Z" fill="#a8acd8"/></g><g transform="translate(128.9,2249) scale(0.17990)" filter="url(#wb51)" opacity="0.95"><path d="M760,60 C830,30 930,20 1030,50 C1060,120 1000,200 900,320 C830,420 790,520 760,650 C720,850 680,1000 650,1150 C620,1250 590,1330 570,1400 L160,1400 C180,1250 220,1080 270,950 C310,820 360,720 420,620 C500,480 580,330 680,180 C710,130 730,90 760,60Z" fill="#dcc6ae"/></g><g clip-path="url(#cp52)"><rect x="67.4" y="2187.0" width="369.1" height="372.0" filter="url(#sl53)" transform="rotate(-62 251.9 2373.0)"/></g><g clip-path="url(#cp52)"><rect x="67.4" y="2187.0" width="369.1" height="372.0" filter="url(#sl54)" transform="rotate(-62 251.9 2373.0)"/></g><g transform="translate(128.9,2249) scale(0.17990)" filter="url(#wb55)" opacity="0.6"><path d="M470,700 C500,800 510,950 500,1100 C490,1200 480,1300 470,1400 L420,1400 C440,1250 450,1100 450,950 C450,850 455,770 470,700Z" fill="#8a90c4"/></g><g transform="translate(128.9,2249) scale(0.17990)" filter="url(#tw56)" opacity="0.6"><path d="M1130,850 C1200,830 1300,850 1368,900 L1368,1368 L1200,1368 C1200,1250 1150,1150 1130,1050 C1120,980 1110,900 1130,850Z" fill="#a87850"/></g><rect x="128.9" y="2249" width="246.1" height="248.0" filter="url(#nl57)"/><rect x="128.9" y="2249" width="246.1" height="248.0" filter="url(#nl58)"/></g><rect x="129.4" y="2485.5" width="28" height="3" fill="#111"/><rect x="129.9" y="2489.5" width="26" height="3.2" fill="#f0f0f0" stroke="#777" stroke-width="0.6"/></g>
<g clip-path="url(#cr72)"><g filter="url(#bf73)"><rect x="384.1" y="2248.6" width="245.90" height="247.40" fill="#c8a47a"/><rect x="384.1" y="2248.6" width="245.9" height="247.4" filter="url(#nl61)"/><rect x="384.1" y="2248.6" width="245.9" height="247.4" filter="url(#nl62)"/><g transform="translate(384.1,2248.6) scale(0.17975)" filter="url(#wb63)" opacity="0.85"><path d="M600,280 C700,250 820,290 800,400 C780,500 760,600 700,700 C620,760 600,850 590,950 C580,1080 600,1200 620,1400 L140,1400 C160,1250 200,1100 250,950 C300,800 380,680 450,580 C510,480 560,360 600,280Z" fill="#cfc6c2"/></g><g clip-path="url(#cp64)"><rect x="322.6" y="2186.8" width="368.8" height="371.1" filter="url(#sl65)" transform="rotate(-65 507.1 2372.3)"/></g><g transform="translate(384.1,2248.6) scale(0.17975)" filter="url(#wb66)" opacity="1"><path d="M120,-20 L780,-20 C720,40 620,110 540,190 C470,270 420,360 400,470 C400,560 420,630 400,690 C360,730 300,740 250,700 C200,640 170,540 150,420 C130,320 120,200 120,-20Z" fill="#f7f5f2"/><path d="M30,560 C80,560 120,600 140,680 C130,740 90,780 40,770 C20,700 20,620 30,560Z" fill="#f7f5f2"/><path d="M640,1400 C640,1300 650,1200 700,1120 C760,1060 820,980 880,920 C950,860 1020,820 1080,760 C1130,700 1170,640 1200,560 C1230,500 1260,440 1300,400 C1310,470 1300,540 1260,620 C1220,700 1170,760 1100,830 C1020,900 960,960 900,1050 C850,1120 800,1200 760,1280 C740,1330 730,1370 720,1400Z" fill="#f7f5f2"/><path d="M1300,30 C1340,40 1368,60 1368,120 L1368,330 C1330,300 1300,240 1290,160 C1290,100 1295,60 1300,30Z" fill="#f7f5f2"/><path d="M1180,420 C1220,420 1250,460 1250,520 C1220,540 1190,510 1180,420Z" fill="#f7f5f2"/><path d="M20,800 C60,810 80,840 80,880 C50,880 30,850 20,800Z" fill="#f7f5f2"/></g><g transform="translate(384.1,2248.6) scale(0.17975)" filter="url(#wb67)" opacity="0.9"><path d="M40,230 C80,220 120,260 130,350 C130,430 120,500 100,560 C70,570 50,540 40,480 C30,400 30,300 40,230Z" fill="#6b4128"/></g><g transform="translate(384.1,2248.6) scale(0.17975)" filter="url(#wb68)" opacity="0.6"><path d="M140,0 C200,40 260,80 300,130 C340,200 360,300 370,400 L330,420 C290,330 250,250 200,180 C170,120 150,60 140,0Z" fill="#c9a27a"/></g><rect x="384.1" y="2248.6" width="245.9" height="247.4" filter="url(#nl69)"/><rect x="384.1" y="2248.6" width="245.9" height="247.4" filter="url(#nl70)"/><rect x="384.1" y="2248.6" width="245.9" height="247.4" filter="url(#nl71)"/></g><rect x="384.6" y="2484.5" width="28" height="3" fill="#111"/><rect x="385.1" y="2488.5" width="26" height="3.2" fill="#f0f0f0" stroke="#777" stroke-width="0.6"/></g>

<path d="M217.5,440.8L218.6,440.8L218.6,446.3L219.7,446.3L219.7,452.9L220.8,452.9L220.8,458.4L229.6,458.4L229.6,461.7L239.5,461.7L239.5,465.0L245.0,465.0L245.0,467.1L248.2,467.1L248.2,471.5L250.0,471.5L250.0,475.9L251.8,475.9L251.8,480.3L253.7,480.3L253.7,484.7L264.7,484.7L264.7,490.2L269.1,490.2L269.1,495.7L272.4,495.7L272.4,503.3L282.2,503.3L282.2,507.7L286.6,507.7L286.6,514.3L288.8,514.3L288.8,527.5L323.9,527.5L323.9,531.8L327.2,531.8L327.2,536.2L330.5,536.2L330.5,541.7L334.9,541.7L334.9,546.1L340.4,546.1L340.4,550.5L344.7,550.5L344.7,554.9L346.9,554.9L346.9,560.4L356.8,560.4L356.8,564.7L367.8,564.7L367.8,569.1L372.1,569.1L372.1,581.2L388.6,581.2L388.6,584.5L407.2,584.5L407.2,590.0L429.2,590.0L429.2,595.4L442.3,595.4L442.3,606.4L466.4,606.4L466.4,619.6L482.9,619.6L482.9,667.8L489.5,667.8L489.5,667.8L489.5,661.2" stroke="#f47b7b" stroke-width="2.2" fill="none"/>
<path d="M239.5,465.0v-6M393.0,584.5v-6M396.3,584.5v-6M399.6,584.5v-6M416.0,590.0v-6M419.3,590.0v-6M423.7,590.0v-6M433.6,595.4v-6M436.8,595.4v-6M440.1,595.4v-6M446.7,606.4v-6M450.0,606.4v-6M453.3,606.4v-6M455.5,606.4v-6M470.8,619.6v-6M475.2,619.6v-6M479.6,619.6v-6" stroke="#f47b7b" stroke-width="2" fill="none"/>
<path d="M209.9,439.7L242.8,439.7L242.8,444.1L250.4,444.1L250.4,448.1L261.0,448.1L261.0,458.8L287.7,458.8L287.7,462.8L295.4,462.8L295.4,467.1L298.7,467.1L298.7,473.3L307.5,473.3L307.5,483.6L324.6,483.6L324.6,488.0L326.1,488.0L326.1,494.1L345.8,494.1L345.8,498.9L384.2,498.9L384.2,503.3L390.8,503.3L390.8,509.5L406.1,509.5L406.1,513.2L411.6,513.2L411.6,516.5L414.9,516.5L414.9,520.9L418.2,520.9L418.2,527.9L432.5,527.9L432.5,535.1L485.1,535.1L485.1,535.1" stroke="#000" stroke-width="3.2" fill="none"/>
<path d="M221.9,439.7v-6M310.7,483.6v-6M313.6,483.6v-6M316.2,483.6v-6M382.0,498.9v-6M399.6,509.5v-6M406.1,513.2v-6M429.2,527.9v-6M433.6,535.1v-6M435.7,535.1v-6M440.6,535.1v-6M445.4,535.1v-6M450.2,535.1v-6M455.0,535.1v-6M459.9,535.1v-6M464.7,535.1v-6M469.5,535.1v-6M474.3,535.1v-6M479.2,535.1v-6M484.0,535.1v-6" stroke="#000" stroke-width="2.4" fill="none"/>
<path d="M210,406V762" stroke="#000" stroke-width="2.2" fill="none"/>
<path d="M203,762H549" stroke="#000" stroke-width="3.2" fill="none"/>
<path d="M209.7,762V771.5M277.3,762V771.5M344.9,762V771.5M412.5,762V771.5M480,762V771.5M548.6,762V771.5" stroke="#000" stroke-width="2.4" fill="none"/>
<path d="M203,440H210M203,600.5H210" stroke="#000" stroke-width="2.2" fill="none"/>
<path d="M239,645.7H285" stroke="#000" stroke-width="2" fill="none"/>
<path d="M239,687H285" stroke="#ff0000" stroke-width="2" fill="none"/>
<path d="M695.4,446.9L700.8,446.9L700.8,457.9L707.4,457.9L707.4,464.5L715.1,464.5L715.1,470.6L727.1,470.6L727.1,477.6L729.3,477.6L729.3,483.1L732.6,483.1L732.6,490.8L739.2,490.8L739.2,498.5L761.1,498.5L761.1,503.9L763.3,503.9L763.3,511.6L772.1,511.6L772.1,518.9L783.1,518.9L783.1,524.8L786.4,524.8L786.4,539.0L910.3,539.0L910.3,548.9L912.5,548.9L912.5,553.9L916.8,553.9L916.8,569.7L926.7,569.7L926.7,589.5L939.9,589.5L939.9,603.7L943.2,603.7L943.2,631.1L959.6,631.1L959.6,631.1L959.6,625.7" stroke="#f47b7b" stroke-width="2.2" fill="none"/>
<path d="M725.0,470.6v-6M756.3,498.5v-6M799.5,539.0v-6M867.5,539.0v-6M873.0,539.0v-6M888.3,539.0v-6M891.8,539.0v-6M895.4,539.0v-6M898.9,539.0v-6M902.4,539.0v-6M905.9,539.0v-6M909.4,539.0v-6M914.6,553.9v-6M923.4,569.7v-6M942.1,603.7v-6M949.7,631.1v-6M955.2,631.1v-6" stroke="#f47b7b" stroke-width="2" fill="none"/>
<path d="M687.7,443.6L701.9,443.6L701.9,448.0L711.8,448.0L711.8,454.6L741.4,454.6L741.4,460.1L755.7,460.1L755.7,466.2L772.1,466.2L772.1,471.7L786.4,471.7L786.4,477.6L807.2,477.6L807.2,483.6L834.6,483.6L834.6,489.7L883.9,489.7L883.9,496.9L909.2,496.9L909.2,507.2L956.3,507.2L956.3,507.2" stroke="#000" stroke-width="3.2" fill="none"/>
<path d="M699.7,443.6v-6M720.6,454.6v-6M727.1,454.6v-6M732.6,454.6v-6M737.5,454.6v-6M787.5,477.6v-6M790.7,477.6v-6M855.4,489.7v-6M873.0,489.7v-6M878.5,489.7v-6M882.9,489.7v-6M886.1,496.9v-6M890.1,496.9v-6M894.0,496.9v-6M898.0,496.9v-6M901.9,496.9v-6M905.9,496.9v-6M911.4,507.2v-6M915.7,507.2v-6M920.1,507.2v-6M924.5,507.2v-6M928.9,507.2v-6M933.3,507.2v-6M937.7,507.2v-6M942.1,507.2v-6M946.4,507.2v-6M950.8,507.2v-6M955.2,507.2v-6" stroke="#000" stroke-width="2.4" fill="none"/>
<path d="M687,411V764" stroke="#000" stroke-width="2.2" fill="none"/>
<path d="M680,763.5H1017.5" stroke="#000" stroke-width="3.2" fill="none"/>
<path d="M687.0,763V772.5M753.1,763V772.5M819.2,763V772.5M885.3,763V772.5M951.4,763V772.5M1017.5,763V772.5" stroke="#000" stroke-width="2.4" fill="none"/>
<path d="M680,443H687M680,604H687" stroke="#000" stroke-width="2.2" fill="none"/>
<path d="M713,647H758" stroke="#000" stroke-width="2" fill="none"/>
<path d="M713,688H758" stroke="#ff0000" stroke-width="2" fill="none"/>
<rect x="166" y="1093.0" width="55.0" height="49.0" fill="#fd7f81"/>
<rect x="166" y="1142.0" width="55.0" height="105.1" fill="#519efa"/>
<rect x="166" y="1247.1" width="55.0" height="196.2" fill="#d4d4d4"/>
<rect x="242.6" y="1093.0" width="55.4" height="79.5" fill="#fd7f81"/>
<rect x="242.6" y="1172.5" width="55.4" height="163.9" fill="#519efa"/>
<rect x="242.6" y="1336.5" width="55.4" height="106.8" fill="#d4d4d4"/>
<rect x="319" y="1093.0" width="55.5" height="65.5" fill="#fd7f81"/>
<rect x="319" y="1158.5" width="55.5" height="220.7" fill="#519efa"/>
<rect x="319" y="1379.2" width="55.5" height="64.1" fill="#d4d4d4"/>
<rect x="396" y="1093.0" width="55.0" height="180.1" fill="#fd7f81"/>
<rect x="396" y="1273.1" width="55.0" height="152.7" fill="#519efa"/>
<rect x="396" y="1425.8" width="55.0" height="17.5" fill="#d4d4d4"/>
<path d="M143,1091V1444" stroke="#000" stroke-width="2.6" fill="none"/>
<path d="M133,1443.3H474" stroke="#000" stroke-width="3" fill="none"/>
<path d="M136,1373.2H143M136,1303.2H143M136,1233.1H143M136,1163.1H143M136,1093.0H143" stroke="#000" stroke-width="2.6" fill="none"/>
<path d="M194.4,1443V1453M270.8,1443V1453M347.2,1443V1453M423.6,1443V1453" stroke="#000" stroke-width="2.6" fill="none"/>
<rect x="486.6" y="1027.7" width="40.1" height="18.7" fill="#fd7f81"/>
<rect x="486.6" y="1075.3" width="40.1" height="18.2" fill="#519efa"/>
<rect x="486.6" y="1122.9" width="40.1" height="18.2" fill="#d4d4d4"/>
<path d="M928.5,1086V1464" stroke="#000" stroke-width="2.6" fill="none"/>
<path d="M921,1462.7H1368" stroke="#000" stroke-width="3.2" fill="none"/>
<path d="M921.5,1086.6H928.5M921.5,1161.8H928.5M921.5,1237.0H928.5M921.5,1312.2H928.5M921.5,1387.4H928.5" stroke="#000" stroke-width="2.6" fill="none"/>
<path d="M994.9,1462V1473M1095.8,1462V1473M1196.8,1462V1473M1299.2,1462V1473" stroke="#000" stroke-width="2.6" fill="none"/>
<path d="M994,1186V1061H1298V1227M1096,1178.3V1091H1298M1196.4,1131.8V1115.3H1298" stroke="#000" stroke-width="3.6" fill="none"/>
<g transform="translate(1142.03,1061.45) scale(0.8328,1)"><text font-size="41.08" fill="#000" font-weight="bold">*</text></g>
<g transform="translate(1192.53,1095.97) scale(0.8633,1)"><text font-size="40.54" fill="#000" font-weight="bold">*</text></g>
<g transform="translate(1234.63,1121.99) scale(0.8561,1)"><text font-size="40.27" fill="#000" font-weight="bold">*</text></g>
<path d="M995,1245V1368.5M978.4,1245H1011.9M978.4,1368.5H1011.9" stroke="#000" stroke-width="2" fill="none"/>
<g fill="#000"><ellipse cx="994.8" cy="1194.6" rx="4.6" ry="5.5"/><ellipse cx="982.1" cy="1258.8" rx="4.6" ry="5.5"/><ellipse cx="1008.4" cy="1258.8" rx="4.6" ry="5.5"/><ellipse cx="995.3" cy="1275.9" rx="4.6" ry="5.5"/><ellipse cx="995.3" cy="1299.4" rx="4.6" ry="5.5"/><ellipse cx="988.7" cy="1325" rx="4.6" ry="5.5"/><ellipse cx="1001.8" cy="1330.5" rx="4.6" ry="5.5"/><ellipse cx="995.3" cy="1354.2" rx="4.6" ry="5.5"/><ellipse cx="995.3" cy="1372.9" rx="4.6" ry="5.5"/><ellipse cx="995.3" cy="1400.3" rx="4.6" ry="5.5"/></g>
<path d="M961.3,1307H1028.8" stroke="#000" stroke-width="3.4" fill="none"/>
<path d="M1096.2,1238V1345M1080.4,1238H1112.1M1080.4,1345H1112.1" stroke="#f9a94b" stroke-width="1.8" fill="none"/>
<g fill="#f9a94b"><rect x="1091.6" y="1185.8" width="9" height="10"/><rect x="1091.6" y="1208.4" width="9" height="10"/><rect x="1063.8" y="1215.0" width="9" height="10"/><rect x="1074.8" y="1220.9" width="9" height="10"/><rect x="1108.7" y="1215.9" width="9" height="10"/><rect x="1119.7" y="1212.8" width="9" height="10"/><rect x="1086.4" y="1228.2" width="9" height="10"/><rect x="1097.3" y="1227.5" width="9" height="10"/><rect x="1063.8" y="1240.0" width="9" height="10"/><rect x="1074.8" y="1241.3" width="9" height="10"/><rect x="1086.4" y="1244.4" width="9" height="10"/><rect x="1108.7" y="1241.3" width="9" height="10"/><rect x="1119.7" y="1240.7" width="9" height="10"/><rect x="1097.3" y="1254.9" width="9" height="10"/><rect x="1098.2" y="1263.7" width="9" height="10"/><rect x="1078.5" y="1274.6" width="9" height="10"/><rect x="1071.9" y="1283.4" width="9" height="10"/><rect x="1110.9" y="1286.7" width="9" height="10"/><rect x="1085.1" y="1291.8" width="9" height="10"/><rect x="1098.2" y="1298.3" width="9" height="10"/><rect x="1064.9" y="1304.3" width="9" height="10"/><rect x="1070.4" y="1308.6" width="9" height="10"/><rect x="1075.9" y="1311.9" width="9" height="10"/><rect x="1081.3" y="1314.1" width="9" height="10"/><rect x="1086.8" y="1316.3" width="9" height="10"/><rect x="1092.3" y="1317.4" width="9" height="10"/><rect x="1097.8" y="1316.3" width="9" height="10"/><rect x="1103.3" y="1315.2" width="9" height="10"/><rect x="1108.7" y="1313.0" width="9" height="10"/><rect x="1114.2" y="1310.8" width="9" height="10"/><rect x="1118.6" y="1307.5" width="9" height="10"/><rect x="1071.9" y="1337.6" width="9" height="10"/><rect x="1085.1" y="1339.3" width="9" height="10"/><rect x="1104.4" y="1339.3" width="9" height="10"/><rect x="1118.0" y="1338.9" width="9" height="10"/><rect x="1098.2" y="1351.0" width="9" height="10"/><rect x="1085.1" y="1363.5" width="9" height="10"/><rect x="1091.6" y="1389.8" width="9" height="10"/><rect x="1091.6" y="1408.9" width="9" height="10"/></g>
<path d="M1062.8,1291.7H1129.7" stroke="#000" stroke-width="3.4" fill="none"/>
<path d="M1197,1233V1344.3M1180.8,1233H1213.7M1180.8,1344.3H1213.7" stroke="#6464f2" stroke-width="1.8" fill="none"/>
<g fill="#6464f2"><path d="M1183.9,1197.4L1188.7,1207.4H1179.1Z"/><path d="M1197.0,1206.2L1201.8,1216.2H1192.2Z"/><path d="M1210.2,1205.1L1215.0,1215.1H1205.4Z"/><path d="M1177.3,1218.2L1182.1,1228.2H1172.5Z"/><path d="M1190.4,1224.8L1195.2,1234.8H1185.6Z"/><path d="M1203.6,1227.0L1208.4,1237.0H1198.8Z"/><path d="M1216.8,1223.7L1221.6,1233.7H1212.0Z"/><path d="M1169.2,1244.5L1174.0,1254.5H1164.4Z"/><path d="M1180.1,1248.9L1184.9,1258.9H1175.3Z"/><path d="M1213.7,1247.8L1218.5,1257.8H1208.9Z"/><path d="M1225.1,1243.0L1229.9,1253.0H1220.3Z"/><path d="M1202.7,1254.4L1207.5,1264.4H1197.9Z"/><path d="M1191.1,1259.9L1195.9,1269.9H1186.3Z"/><path d="M1177.3,1264.3L1182.1,1274.3H1172.5Z"/><path d="M1190.4,1268.7L1195.2,1278.7H1185.6Z"/><path d="M1223.3,1268.0L1228.1,1278.0H1218.5Z"/><path d="M1204.3,1280.7L1209.1,1290.7H1199.5Z"/><path d="M1210.2,1279.6L1215.0,1289.6H1205.4Z"/><path d="M1173.6,1288.4L1178.4,1298.4H1168.8Z"/><path d="M1180.1,1289.5L1184.9,1299.5H1175.3Z"/><path d="M1190.4,1286.2L1195.2,1296.2H1185.6Z"/><path d="M1186.7,1293.9L1191.5,1303.9H1181.9Z"/><path d="M1193.7,1298.3L1198.5,1308.3H1188.9Z"/><path d="M1201.0,1293.9L1205.8,1303.9H1196.2Z"/><path d="M1207.5,1292.8L1212.3,1302.8H1202.7Z"/><path d="M1214.1,1288.4L1218.9,1298.4H1209.3Z"/><path d="M1221.1,1288.4L1225.9,1298.4H1216.3Z"/><path d="M1190.4,1320.2L1195.2,1330.2H1185.6Z"/><path d="M1203.6,1327.9L1208.4,1337.9H1198.8Z"/><path d="M1170.7,1335.6L1175.5,1345.6H1165.9Z"/><path d="M1183.9,1342.6L1188.7,1352.6H1179.1Z"/><path d="M1210.2,1346.1L1215.0,1356.1H1205.4Z"/><path d="M1223.3,1338.8L1228.1,1348.8H1218.5Z"/><path d="M1177.3,1355.3L1182.1,1365.3H1172.5Z"/><path d="M1197.0,1352.0L1201.8,1362.0H1192.2Z"/><path d="M1216.8,1359.7L1221.6,1369.7H1212.0Z"/><path d="M1190.4,1368.9L1195.2,1378.9H1185.6Z"/><path d="M1203.6,1369.5L1208.4,1379.5H1198.8Z"/><path d="M1197.0,1395.9L1201.8,1405.9H1192.2Z"/><path d="M1196.8,1143.2L1201.6,1153.2H1192.0Z"/></g>
<path d="M1163.7,1288.9H1230.6" stroke="#000" stroke-width="3.4" fill="none"/>
<path d="M1297.5,1226.8V1257.5M1281,1226.8H1312M1281,1257.5H1312" stroke="#f48686" stroke-width="1.8" fill="none"/>
<g fill="#f48686"><path d="M1271.4,1232.7L1276.2,1222.7H1266.6Z"/><path d="M1284.6,1236.0L1289.4,1226.0H1279.8Z"/><path d="M1297.7,1241.5L1302.5,1231.5H1292.9Z"/><path d="M1310.8,1236.0L1315.6,1226.0H1306.0Z"/><path d="M1324.4,1232.7L1329.2,1222.7H1319.6Z"/><path d="M1284.6,1264.5L1289.4,1254.5H1279.8Z"/><path d="M1297.7,1267.8L1302.5,1257.8H1292.9Z"/><path d="M1310.8,1266.7L1315.6,1256.7H1306.0Z"/></g>
<path d="M1264.8,1242.5H1331.2" stroke="#000" stroke-width="3.4" fill="none"/>
<path d="M815,1959.5V2306" stroke="#000" stroke-width="2.8" fill="none"/>
<path d="M806,2305H1289" stroke="#000" stroke-width="3.2" fill="none"/>
<path d="M806,2220.5H815M806,2133H815M806,2046.6H815M806,1959.5H815" stroke="#000" stroke-width="2.8" fill="none"/>
<path d="M814.8,2305V2313.5M932.5,2305V2313.5M1051,2305V2313.5M1170.6,2305V2313.5M1289,2305V2313.5" stroke="#000" stroke-width="2.8" fill="none"/>
<path d="M836.5,2255.1L1193.5,2127.4" stroke="#000" stroke-width="3.2" fill="none"/>
<g fill="#000"><ellipse cx="870.9" cy="2048.8" rx="4.9" ry="5.1"/><ellipse cx="924.2" cy="2065.6" rx="4.9" ry="5.1"/><ellipse cx="925.1" cy="2064.7" rx="4.9" ry="5.1"/><ellipse cx="1030.8" cy="2069.3" rx="4.9" ry="5.1"/><ellipse cx="857.9" cy="2119.0" rx="4.9" ry="5.1"/><ellipse cx="905.0" cy="2106.8" rx="4.9" ry="5.1"/><ellipse cx="903.2" cy="2109.5" rx="4.9" ry="5.1"/><ellipse cx="900.8" cy="2117.2" rx="4.9" ry="5.1"/><ellipse cx="998.6" cy="2104.6" rx="4.9" ry="5.1"/><ellipse cx="990.9" cy="2113.2" rx="4.9" ry="5.1"/><ellipse cx="897.9" cy="2143.9" rx="4.9" ry="5.1"/><ellipse cx="975.4" cy="2148.8" rx="4.9" ry="5.1"/><ellipse cx="979.0" cy="2145.1" rx="4.9" ry="5.1"/><ellipse cx="982.7" cy="2141.8" rx="4.9" ry="5.1"/><ellipse cx="1026.9" cy="2150.6" rx="4.9" ry="5.1"/><ellipse cx="1055.8" cy="2148.8" rx="4.9" ry="5.1"/><ellipse cx="1056.7" cy="2152.4" rx="4.9" ry="5.1"/><ellipse cx="940.7" cy="2166.7" rx="4.9" ry="5.1"/><ellipse cx="936.1" cy="2170.7" rx="4.9" ry="5.1"/><ellipse cx="933.4" cy="2174.4" rx="4.9" ry="5.1"/><ellipse cx="950.7" cy="2172.5" rx="4.9" ry="5.1"/><ellipse cx="947.1" cy="2176.2" rx="4.9" ry="5.1"/><ellipse cx="943.4" cy="2179.9" rx="4.9" ry="5.1"/><ellipse cx="939.8" cy="2183.5" rx="4.9" ry="5.1"/><ellipse cx="936.1" cy="2187.2" rx="4.9" ry="5.1"/><ellipse cx="880.9" cy="2176.6" rx="4.9" ry="5.1"/><ellipse cx="902.8" cy="2176.6" rx="4.9" ry="5.1"/><ellipse cx="927.0" cy="2182.6" rx="4.9" ry="5.1"/><ellipse cx="875.2" cy="2187.5" rx="4.9" ry="5.1"/><ellipse cx="895.2" cy="2188.1" rx="4.9" ry="5.1"/><ellipse cx="916.5" cy="2194.1" rx="4.9" ry="5.1"/><ellipse cx="968.3" cy="2178.9" rx="4.9" ry="5.1"/><ellipse cx="977.8" cy="2171.6" rx="4.9" ry="5.1"/><ellipse cx="986.9" cy="2164.0" rx="4.9" ry="5.1"/><ellipse cx="1012.9" cy="2160.7" rx="4.9" ry="5.1"/><ellipse cx="1009.2" cy="2163.4" rx="4.9" ry="5.1"/><ellipse cx="1005.5" cy="2166.1" rx="4.9" ry="5.1"/><ellipse cx="1001.0" cy="2169.8" rx="4.9" ry="5.1"/><ellipse cx="997.3" cy="2172.5" rx="4.9" ry="5.1"/><ellipse cx="993.7" cy="2175.3" rx="4.9" ry="5.1"/><ellipse cx="990.0" cy="2178.0" rx="4.9" ry="5.1"/><ellipse cx="985.4" cy="2180.8" rx="4.9" ry="5.1"/><ellipse cx="980.9" cy="2184.4" rx="4.9" ry="5.1"/><ellipse cx="1021.4" cy="2171.3" rx="4.9" ry="5.1"/><ellipse cx="1004.3" cy="2182.2" rx="4.9" ry="5.1"/><ellipse cx="965.3" cy="2195.4" rx="4.9" ry="5.1"/><ellipse cx="1026.6" cy="2189.0" rx="4.9" ry="5.1"/><ellipse cx="1022.9" cy="2190.8" rx="4.9" ry="5.1"/><ellipse cx="1020.2" cy="2192.6" rx="4.9" ry="5.1"/><ellipse cx="1034.8" cy="2185.3" rx="4.9" ry="5.1"/><ellipse cx="1042.1" cy="2180.8" rx="4.9" ry="5.1"/><ellipse cx="1046.7" cy="2178.0" rx="4.9" ry="5.1"/><ellipse cx="1049.4" cy="2176.2" rx="4.9" ry="5.1"/><ellipse cx="1054.9" cy="2173.5" rx="4.9" ry="5.1"/><ellipse cx="1058.5" cy="2170.7" rx="4.9" ry="5.1"/><ellipse cx="1047.6" cy="2191.7" rx="4.9" ry="5.1"/><ellipse cx="1043.9" cy="2193.6" rx="4.9" ry="5.1"/><ellipse cx="883.1" cy="2204.5" rx="4.9" ry="5.1"/><ellipse cx="880.4" cy="2208.2" rx="4.9" ry="5.1"/><ellipse cx="873.8" cy="2219.5" rx="4.9" ry="5.1"/><ellipse cx="906.9" cy="2215.1" rx="4.9" ry="5.1"/><ellipse cx="903.2" cy="2218.2" rx="4.9" ry="5.1"/><ellipse cx="942.5" cy="2211.8" rx="4.9" ry="5.1"/><ellipse cx="938.8" cy="2213.7" rx="4.9" ry="5.1"/><ellipse cx="936.1" cy="2215.5" rx="4.9" ry="5.1"/><ellipse cx="932.4" cy="2218.2" rx="4.9" ry="5.1"/><ellipse cx="928.4" cy="2221.9" rx="4.9" ry="5.1"/><ellipse cx="1003.7" cy="2201.8" rx="4.9" ry="5.1"/><ellipse cx="1000.1" cy="2203.6" rx="4.9" ry="5.1"/><ellipse cx="996.4" cy="2205.4" rx="4.9" ry="5.1"/><ellipse cx="1011.0" cy="2210.0" rx="4.9" ry="5.1"/><ellipse cx="995.1" cy="2217.3" rx="4.9" ry="5.1"/><ellipse cx="1058.0" cy="2215.9" rx="4.9" ry="5.1"/><ellipse cx="970.8" cy="2228.8" rx="4.9" ry="5.1"/><ellipse cx="1025.1" cy="2223.7" rx="4.9" ry="5.1"/><ellipse cx="1022.9" cy="2234.3" rx="4.9" ry="5.1"/><ellipse cx="1009.2" cy="2233.8" rx="4.9" ry="5.1"/><ellipse cx="1004.6" cy="2235.6" rx="4.9" ry="5.1"/><ellipse cx="1047.6" cy="2241.4" rx="4.9" ry="5.1"/><ellipse cx="946.1" cy="2233.2" rx="4.9" ry="5.1"/><ellipse cx="937.9" cy="2237.4" rx="4.9" ry="5.1"/><ellipse cx="934.3" cy="2240.2" rx="4.9" ry="5.1"/><ellipse cx="913.3" cy="2232.9" rx="4.9" ry="5.1"/><ellipse cx="909.6" cy="2235.6" rx="4.9" ry="5.1"/><ellipse cx="905.9" cy="2238.3" rx="4.9" ry="5.1"/><ellipse cx="902.3" cy="2242.0" rx="4.9" ry="5.1"/><ellipse cx="876.7" cy="2236.5" rx="4.9" ry="5.1"/><ellipse cx="873.0" cy="2239.2" rx="4.9" ry="5.1"/><ellipse cx="871.2" cy="2242.9" rx="4.9" ry="5.1"/><ellipse cx="893.2" cy="2247.5" rx="4.9" ry="5.1"/><ellipse cx="862.1" cy="2253.0" rx="4.9" ry="5.1"/><ellipse cx="844.7" cy="2260.3" rx="4.9" ry="5.1"/><ellipse cx="842.9" cy="2263.0" rx="4.9" ry="5.1"/><ellipse cx="875.8" cy="2259.3" rx="4.9" ry="5.1"/><ellipse cx="872.1" cy="2262.1" rx="4.9" ry="5.1"/><ellipse cx="910.5" cy="2258.1" rx="4.9" ry="5.1"/><ellipse cx="905.9" cy="2260.3" rx="4.9" ry="5.1"/><ellipse cx="902.3" cy="2262.1" rx="4.9" ry="5.1"/><ellipse cx="944.3" cy="2257.5" rx="4.9" ry="5.1"/><ellipse cx="940.7" cy="2259.3" rx="4.9" ry="5.1"/><ellipse cx="937.9" cy="2259.3" rx="4.9" ry="5.1"/><ellipse cx="919.3" cy="2266.3" rx="4.9" ry="5.1"/><ellipse cx="1013.8" cy="2256.6" rx="4.9" ry="5.1"/><ellipse cx="1007.4" cy="2257.5" rx="4.9" ry="5.1"/><ellipse cx="900.5" cy="2273.1" rx="4.9" ry="5.1"/><ellipse cx="871.2" cy="2276.7" rx="4.9" ry="5.1"/><ellipse cx="874.0" cy="2283.1" rx="4.9" ry="5.1"/><ellipse cx="884.0" cy="2279.5" rx="4.9" ry="5.1"/><ellipse cx="917.8" cy="2279.5" rx="4.9" ry="5.1"/><ellipse cx="846.5" cy="2281.3" rx="4.9" ry="5.1"/><ellipse cx="842.9" cy="2284.0" rx="4.9" ry="5.1"/><ellipse cx="839.2" cy="2286.8" rx="4.9" ry="5.1"/><ellipse cx="835.6" cy="2289.1" rx="4.9" ry="5.1"/><ellipse cx="860.3" cy="2287.7" rx="4.9" ry="5.1"/><ellipse cx="857.5" cy="2289.1" rx="4.9" ry="5.1"/><ellipse cx="892.2" cy="2285.8" rx="4.9" ry="5.1"/><ellipse cx="897.7" cy="2284.0" rx="4.9" ry="5.1"/><ellipse cx="903.2" cy="2282.2" rx="4.9" ry="5.1"/><ellipse cx="907.8" cy="2281.3" rx="4.9" ry="5.1"/><ellipse cx="905.9" cy="2287.7" rx="4.9" ry="5.1"/><ellipse cx="937.0" cy="2282.2" rx="4.9" ry="5.1"/><ellipse cx="941.6" cy="2281.3" rx="4.9" ry="5.1"/><ellipse cx="947.1" cy="2280.4" rx="4.9" ry="5.1"/><ellipse cx="945.2" cy="2288.6" rx="4.9" ry="5.1"/><ellipse cx="957.7" cy="2278.5" rx="4.9" ry="5.1"/><ellipse cx="966.6" cy="2285.8" rx="4.9" ry="5.1"/><ellipse cx="999.1" cy="2282.2" rx="4.9" ry="5.1"/><ellipse cx="996.4" cy="2287.7" rx="4.9" ry="5.1"/><ellipse cx="1036.6" cy="2284.0" rx="4.9" ry="5.1"/><ellipse cx="1141.4" cy="2043.2" rx="4.9" ry="5.1"/><ellipse cx="1147.3" cy="2051.9" rx="4.9" ry="5.1"/><ellipse cx="1118.9" cy="2064.7" rx="4.9" ry="5.1"/><ellipse cx="1179.4" cy="2043.3" rx="4.9" ry="5.1"/><ellipse cx="1193.9" cy="2037.3" rx="4.9" ry="5.1"/><ellipse cx="1108.9" cy="2119.5" rx="4.9" ry="5.1"/><ellipse cx="1071.6" cy="2139.1" rx="4.9" ry="5.1"/><ellipse cx="1098.1" cy="2138.7" rx="4.9" ry="5.1"/><ellipse cx="1055.5" cy="2149.7" rx="4.9" ry="5.1"/><ellipse cx="1057.4" cy="2153.4" rx="4.9" ry="5.1"/><ellipse cx="1078.0" cy="2153.9" rx="4.9" ry="5.1"/><ellipse cx="1146.9" cy="2140.6" rx="4.9" ry="5.1"/><ellipse cx="1178.3" cy="2138.7" rx="4.9" ry="5.1"/><ellipse cx="1061.0" cy="2170.4" rx="4.9" ry="5.1"/><ellipse cx="1055.5" cy="2173.5" rx="4.9" ry="5.1"/><ellipse cx="1047.3" cy="2177.7" rx="4.9" ry="5.1"/><ellipse cx="1041.8" cy="2180.8" rx="4.9" ry="5.1"/><ellipse cx="1093.9" cy="2169.8" rx="4.9" ry="5.1"/><ellipse cx="1072.9" cy="2179.9" rx="4.9" ry="5.1"/><ellipse cx="1068.3" cy="2181.7" rx="4.9" ry="5.1"/><ellipse cx="1049.1" cy="2191.2" rx="4.9" ry="5.1"/><ellipse cx="1044.6" cy="2193.2" rx="4.9" ry="5.1"/><ellipse cx="1159.7" cy="2179.5" rx="4.9" ry="5.1"/><ellipse cx="1170.7" cy="2175.8" rx="4.9" ry="5.1"/><ellipse cx="1173.4" cy="2174.7" rx="4.9" ry="5.1"/><ellipse cx="1138.7" cy="2209.1" rx="4.9" ry="5.1"/><ellipse cx="1138.7" cy="2221.5" rx="4.9" ry="5.1"/><ellipse cx="1067.4" cy="2212.7" rx="4.9" ry="5.1"/><ellipse cx="1063.8" cy="2214.6" rx="4.9" ry="5.1"/><ellipse cx="1059.2" cy="2216.0" rx="4.9" ry="5.1"/><ellipse cx="1096.1" cy="2213.7" rx="4.9" ry="5.1"/><ellipse cx="1047.9" cy="2241.4" rx="4.9" ry="5.1"/><ellipse cx="1106.7" cy="2244.7" rx="4.9" ry="5.1"/><ellipse cx="1165.2" cy="2254.4" rx="4.9" ry="5.1"/></g>
<g id="text">
<g transform="translate(165.97,34.93) scale(0.8877,1)"><text font-size="57.27" fill="#000" font-weight="bold">a</text></g>
<g transform="translate(29.26,1045.44) scale(1.0022,1)"><text font-size="55.92" fill="#000" font-weight="bold">b</text></g>
<g transform="translate(850.64,1045.34) scale(1.0023,1)"><text font-size="56.36" fill="#000" font-weight="bold">c</text></g>
<g transform="translate(18.24,1698.03) scale(0.9947,1)"><text font-size="56.73" fill="#000" font-weight="bold">d</text></g>
<g transform="translate(361.63,20.79) scale(0.9773,1)"><text font-size="29.09" fill="#000">High</text></g>
<g transform="translate(716.43,20.60) scale(0.9369,1)"><text font-size="30.29" fill="#000">Low</text></g>
<g transform="translate(313.77,416.80) scale(0.8908,1)"><text font-size="29.86" fill="#000">LRG1</text><rect x="62.39" y="-3.25" width="6.15" height="4.25" fill="#fff"/><rect x="71.87" y="-3.25" width="6.00" height="4.25" fill="#fff"/></g>
<g transform="translate(290.84,838.78) scale(0.9838,1)"><text font-size="28.66" fill="#000">Time(months)</text></g>
<g transform="translate(138.55,685.95) rotate(-90) scale(0.9939,1)"><text font-size="28.34" fill="#000">Probablity(OS)</text></g>
<g transform="translate(241.67,606.90) scale(0.9287,1)"><text font-size="29.86" fill="#000"><tspan font-style="italic">P</tspan>=0.005</text></g>
<g transform="translate(284.02,657.55) scale(0.9603,1)"><text font-size="29.64" fill="#000">Low,n=70</text></g>
<g transform="translate(281.73,698.97) scale(0.9593,1)"><text font-size="28.24" fill="#ff0000">High,n=71</text><rect x="114.71" y="-3.12" width="5.84" height="4.12" fill="#fff"/><rect x="123.73" y="-3.12" width="5.70" height="4.12" fill="#fff"/></g>
<g transform="translate(159.63,452.70) scale(0.9328,1)"><text font-size="29.58" fill="#000">100</text><rect x="0.97" y="-3.23" width="6.10" height="4.23" fill="#fff"/><rect x="10.38" y="-3.23" width="5.95" height="4.23" fill="#fff"/></g>
<g transform="translate(171.60,609.50) scale(0.9310,1)"><text font-size="29.58" fill="#000">50</text></g>
<g transform="translate(187.50,770.41) scale(0.8900,1)"><text font-size="29.60" fill="#000">0</text></g>
<g transform="translate(199.24,801.91) scale(1.0079,1)"><text font-size="28.73" fill="#000">0</text></g>
<g transform="translate(258.88,798.96) scale(0.8900,1)"><text font-size="29.60" fill="#000">20</text></g>
<g transform="translate(324.53,798.96) scale(0.8900,1)"><text font-size="29.60" fill="#000">40</text></g>
<g transform="translate(395.78,798.96) scale(0.8900,1)"><text font-size="29.60" fill="#000">60</text></g>
<g transform="translate(466.60,798.96) scale(0.8900,1)"><text font-size="29.60" fill="#000">80</text></g>
<g transform="translate(523.29,798.96) scale(0.8900,1)"><text font-size="29.60" fill="#000">100</text><rect x="0.98" y="-3.23" width="6.10" height="4.23" fill="#fff"/><rect x="10.38" y="-3.23" width="5.96" height="4.23" fill="#fff"/></g>
<g transform="translate(813.31,424.31) scale(0.9400,1)"><text font-size="29.15" fill="#000">LRG1</text><rect x="60.90" y="-3.19" width="6.02" height="4.19" fill="#fff"/><rect x="70.18" y="-3.19" width="5.87" height="4.19" fill="#fff"/></g>
<g transform="translate(765.43,838.48) scale(0.9596,1)"><text font-size="29.63" fill="#000">Time(months)</text></g>
<g transform="translate(621.13,713.75) rotate(-90) scale(0.9885,1)"><text font-size="28.45" fill="#000">Probablity(DMFS)</text></g>
<g transform="translate(726.66,609.70) scale(0.9380,1)"><text font-size="29.86" fill="#000"><tspan font-style="italic">P</tspan>=0.02</text></g>
<g transform="translate(756.52,659.12) scale(0.9542,1)"><text font-size="29.88" fill="#000">Low,n=70</text></g>
<g transform="translate(756.33,699.79) scale(0.9645,1)"><text font-size="28.13" fill="#ff0000">High,n=71</text><rect x="114.27" y="-3.11" width="5.82" height="4.11" fill="#fff"/><rect x="123.27" y="-3.11" width="5.68" height="4.11" fill="#fff"/></g>
<g transform="translate(636.27,453.91) scale(0.9264,1)"><text font-size="29.15" fill="#000">100</text><rect x="0.95" y="-3.19" width="6.02" height="4.19" fill="#fff"/><rect x="10.23" y="-3.19" width="5.87" height="4.19" fill="#fff"/></g>
<g transform="translate(650.11,610.41) scale(0.9516,1)"><text font-size="28.73" fill="#000">50</text></g>
<g transform="translate(665.80,772.71) scale(0.8900,1)"><text font-size="29.60" fill="#000">0</text></g>
<g transform="translate(677.82,800.61) scale(0.8900,1)"><text font-size="29.60" fill="#000">0</text></g>
<g transform="translate(738.28,800.61) scale(0.8900,1)"><text font-size="29.60" fill="#000">20</text></g>
<g transform="translate(803.98,800.61) scale(0.8900,1)"><text font-size="29.60" fill="#000">40</text></g>
<g transform="translate(869.88,800.61) scale(0.8900,1)"><text font-size="29.60" fill="#000">60</text></g>
<g transform="translate(934.25,800.61) scale(0.8900,1)"><text font-size="29.60" fill="#000">80</text></g>
<g transform="translate(991.44,800.61) scale(0.8900,1)"><text font-size="29.60" fill="#000">100</text><rect x="0.98" y="-3.23" width="6.10" height="4.23" fill="#fff"/><rect x="10.38" y="-3.23" width="5.96" height="4.23" fill="#fff"/></g>
<g transform="translate(288.29,1052.60) scale(0.9276,1)"><text font-size="29.72" fill="#000">LRG1</text><rect x="62.09" y="-3.24" width="6.13" height="4.24" fill="#fff"/><rect x="71.53" y="-3.24" width="5.98" height="4.24" fill="#fff"/></g>
<g transform="translate(530.35,1043.23) scale(1.0244,1)"><text font-size="27.49" fill="#000">High expression</text></g>
<g transform="translate(529.26,1093.74) scale(1.0406,1)"><text font-size="26.95" fill="#000">Medium expression</text></g>
<g transform="translate(531.45,1138.18) scale(1.0167,1)"><text font-size="27.70" fill="#000">Low expression</text></g>
<g transform="translate(67.18,1408.65) rotate(-90) scale(1.0154,1)"><text font-size="27.70" fill="#000">Patient percentage(%)</text></g>
<g transform="translate(120.50,1453.21) scale(0.8900,1)"><text font-size="29.60" fill="#000">0</text></g>
<g transform="translate(105.88,1383.15) scale(0.8900,1)"><text font-size="29.60" fill="#000">20</text></g>
<g transform="translate(105.88,1313.09) scale(0.8900,1)"><text font-size="29.60" fill="#000">40</text></g>
<g transform="translate(105.88,1243.03) scale(0.8900,1)"><text font-size="29.60" fill="#000">60</text></g>
<g transform="translate(105.88,1172.97) scale(0.8900,1)"><text font-size="29.60" fill="#000">80</text></g>
<g transform="translate(91.26,1102.91) scale(0.8900,1)"><text font-size="29.60" fill="#000">100</text><rect x="0.98" y="-3.23" width="6.10" height="4.23" fill="#fff"/><rect x="10.38" y="-3.23" width="5.96" height="4.23" fill="#fff"/></g>
<g transform="translate(1096.45,1006.80) scale(0.9505,1)"><text font-size="30.42" fill="#000">CPTAC</text></g>
<g transform="translate(903.40,1096.36) scale(0.8900,1)"><text font-size="29.60" fill="#000">2</text></g>
<g transform="translate(903.26,1171.31) scale(0.8900,1)"><text font-size="29.60" fill="#000">1</text><rect x="0.98" y="-3.23" width="6.10" height="4.23" fill="#fff"/><rect x="10.38" y="-3.23" width="5.96" height="4.23" fill="#fff"/></g>
<g transform="translate(903.00,1246.41) scale(0.8900,1)"><text font-size="29.60" fill="#000">0</text></g>
<g transform="translate(894.44,1321.51) scale(0.8900,1)"><text font-size="29.60" fill="#000">-1</text><rect x="10.83" y="-3.23" width="6.10" height="4.23" fill="#fff"/><rect x="20.24" y="-3.23" width="5.96" height="4.23" fill="#fff"/></g>
<g transform="translate(894.57,1396.76) scale(0.8900,1)"><text font-size="29.60" fill="#000">-2</text></g>
<g transform="translate(894.31,1471.71) scale(0.8900,1)"><text font-size="29.60" fill="#000">-3</text></g>
<g transform="translate(843.65,1382.74) rotate(-90) scale(0.9871,1)"><text font-size="28.34" fill="#000">Protein expression of</text></g>
<g transform="translate(877.35,1345.67) rotate(-90) scale(1.0027,1)"><text font-size="28.34" fill="#000">LRG1(z-score)</text><rect x="59.18" y="-3.12" width="5.86" height="4.12" fill="#fff"/><rect x="68.23" y="-3.12" width="5.72" height="4.12" fill="#fff"/></g>
<g transform="translate(182.57,1704.26) scale(0.9498,1)"><text font-size="29.73" fill="#000">α-SMA(20x)</text></g>
<g transform="translate(426.75,1704.71) scale(0.9176,1)"><text font-size="29.30" fill="#000">LRG1</text><rect x="61.19" y="-3.20" width="6.05" height="4.20" fill="#fff"/><rect x="70.52" y="-3.20" width="5.90" height="4.20" fill="#fff"/></g>
<g transform="translate(516.19,1703.99) scale(1.0707,1)"><text font-size="28.13" fill="#000">(20x)</text></g>
<g transform="translate(48.10,1857.59) scale(0.9240,1)"><text font-size="31.14" fill="#000">Low</text></g>
<g transform="translate(-1.86,2105.01) scale(0.9843,1)"><text font-size="28.71" fill="#000">Medium</text></g>
<g transform="translate(45.14,2382.27) scale(1.0013,1)"><text font-size="28.24" fill="#000">High</text></g>
<g transform="translate(838.38,1984.69) scale(0.9332,1)"><text font-size="30.05" fill="#000">r(Pearson)=0.505</text></g>
<g transform="translate(840.08,2017.90) scale(0.9152,1)"><text font-size="29.72" fill="#000"><tspan font-style="italic">P</tspan>&lt;0.0001</text><rect x="112.53" y="-3.24" width="6.13" height="4.24" fill="#fff"/><rect x="121.97" y="-3.24" width="5.98" height="4.24" fill="#fff"/></g>
<g transform="translate(923.89,2371.71) scale(0.9720,1)"><text font-size="28.71" fill="#000">IHC score of α-SMA</text></g>
<g transform="translate(758.62,2241.27) rotate(-90) scale(0.9657,1)"><text font-size="28.44" fill="#000">IHC score of LRG1</text><rect x="225.29" y="-3.13" width="5.88" height="4.13" fill="#fff"/><rect x="234.38" y="-3.13" width="5.74" height="4.13" fill="#fff"/></g>
<g transform="translate(771.85,1972.23) scale(1.0550,1)"><text font-size="27.46" fill="#000">20</text></g>
<g transform="translate(774.29,2057.70) scale(0.8786,1)"><text font-size="30.43" fill="#000">15</text><rect x="1.03" y="-3.30" width="6.26" height="4.30" fill="#fff"/><rect x="10.67" y="-3.30" width="6.11" height="4.30" fill="#fff"/></g>
<g transform="translate(776.01,2143.90) scale(0.9171,1)"><text font-size="30.42" fill="#000">10</text><rect x="1.03" y="-3.29" width="6.26" height="4.29" fill="#fff"/><rect x="10.66" y="-3.29" width="6.11" height="4.29" fill="#fff"/></g>
<g transform="translate(787.83,2232.69) scale(0.9354,1)"><text font-size="31.29" fill="#000">5</text></g>
<g transform="translate(789.59,2307.61) scale(0.9458,1)"><text font-size="29.30" fill="#000">0</text></g>
<g transform="translate(806.49,2336.21) scale(0.9504,1)"><text font-size="29.15" fill="#000">0</text></g>
<g transform="translate(926.39,2336.96) scale(0.8900,1)"><text font-size="29.60" fill="#000">5</text></g>
<g transform="translate(1036.05,2337.11) scale(0.8900,1)"><text font-size="29.60" fill="#000">10</text><rect x="0.98" y="-3.23" width="6.10" height="4.23" fill="#fff"/><rect x="10.38" y="-3.23" width="5.96" height="4.23" fill="#fff"/></g>
<g transform="translate(1150.92,2336.96) scale(0.8900,1)"><text font-size="29.60" fill="#000">15</text><rect x="0.98" y="-3.23" width="6.10" height="4.23" fill="#fff"/><rect x="10.38" y="-3.23" width="5.96" height="4.23" fill="#fff"/></g>
<g transform="translate(1267.38,2337.11) scale(0.8900,1)"><text font-size="29.60" fill="#000">20</text></g>
<text transform="translate(203.44,1463.78) scale(0.9,1) rotate(-37)" font-size="29.6" text-anchor="end">Stage I</text>
<text transform="translate(278.44,1466.48) scale(0.9,1) rotate(-37)" font-size="29.6" text-anchor="end">Stage II</text>
<text transform="translate(361.64,1466.48) scale(0.9,1) rotate(-37)" font-size="29.6" text-anchor="end">Stage III</text>
<text transform="translate(432.82,1459.74) scale(0.9,1) rotate(-37)" font-size="29.6" text-anchor="end">Stage IV</text>
<text transform="translate(1005.24,1482.38) scale(0.9,1) rotate(-37)" font-size="29.6" text-anchor="end">Stage I</text>
<text transform="translate(1108.14,1485.28) scale(0.9,1) rotate(-37)" font-size="29.6" text-anchor="end">Stage II</text>
<text transform="translate(1213.94,1485.08) scale(0.9,1) rotate(-37)" font-size="29.6" text-anchor="end">Stage III</text>
<text transform="translate(1311.02,1482.14) scale(0.9,1) rotate(-37)" font-size="29.6" text-anchor="end">Stage IV</text>
</g>
</svg>
</body></html>
